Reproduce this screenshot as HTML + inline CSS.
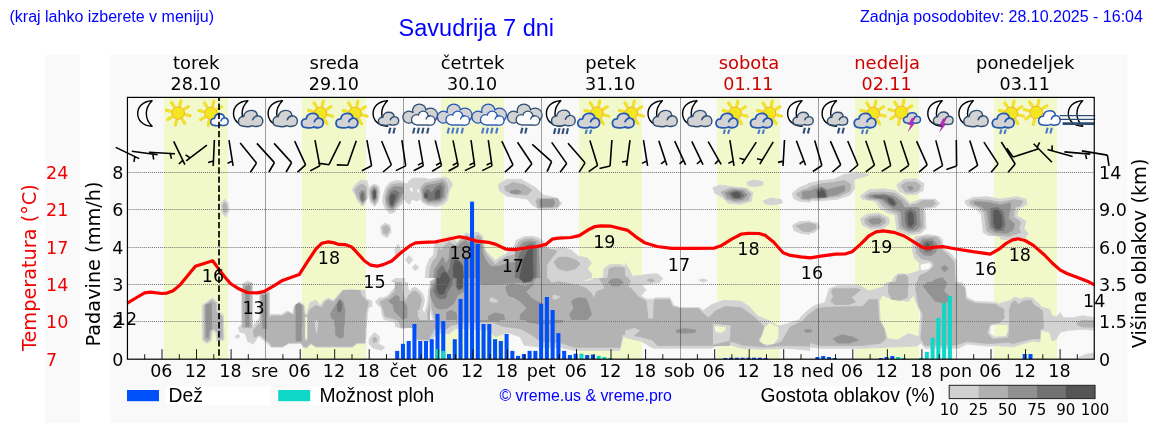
<!DOCTYPE html>
<html lang="sl"><head><meta charset="utf-8"><title>Savudrija 7 dni</title>
<style>html,body{margin:0;padding:0;background:#fff;overflow:hidden}svg{display:block;will-change:transform}text{white-space:pre}</style></head><body>
<svg width="1152" height="443" viewBox="0 0 1152 443">
<rect x="0" y="0" width="1152" height="443" fill="#ffffff"/>
<rect x="45.2" y="55" width="34.7" height="367.6" fill="#f9f9f9"/>
<rect x="110.2" y="55" width="1017.3" height="367.6" fill="#f9f9f9"/>
<rect x="164" y="97.4" width="64" height="261.8" fill="#f1f8c9"/>
<rect x="302" y="97.4" width="64" height="261.8" fill="#f1f8c9"/>
<rect x="441" y="97.4" width="63" height="261.8" fill="#f1f8c9"/>
<rect x="579" y="97.4" width="63" height="261.8" fill="#f1f8c9"/>
<rect x="717" y="97.4" width="63" height="261.8" fill="#f1f8c9"/>
<rect x="855" y="97.4" width="64" height="261.8" fill="#f1f8c9"/>
<rect x="994" y="97.4" width="63" height="261.8" fill="#f1f8c9"/>
<g id="clouds" shape-rendering="geometricPrecision">
<defs><clipPath id="pc"><rect x="127.3" y="97.3" width="967.4" height="261.7"/></clipPath>
<clipPath id="cc0"><path d="M0 0H1152V443H0ZM195 290H365V362H195Z" clip-rule="evenodd"/></clipPath>
<clipPath id="cc1"><rect x="195" y="290" width="76" height="72"/></clipPath>
<clipPath id="cc2"><rect x="271" y="290" width="94" height="36"/></clipPath>
<clipPath id="cc3"><rect x="271" y="326" width="94" height="36"/></clipPath>
<clipPath id="cc4"><path d="M0 0H1152V443H0ZM345 172H465V218H345Z" clip-rule="evenodd"/></clipPath>
<clipPath id="cc5"><rect x="345" y="172" width="120" height="46"/></clipPath>
<clipPath id="cc6"><path d="M340 232H395V360H340ZM365 282H430V328H365Z" clip-rule="evenodd"/></clipPath>
<clipPath id="cc7"><rect x="395" y="232" width="120" height="46"/></clipPath>
<clipPath id="cc8"><path d="M395 278H515V320H395ZM365 282H430V328H365Z" clip-rule="evenodd"/></clipPath>
<clipPath id="cc9"><rect x="515" y="232" width="110" height="46"/></clipPath>
<clipPath id="cc10"><rect x="515" y="278" width="110" height="42"/></clipPath>
<clipPath id="cc11"><rect x="395" y="320" width="230" height="40"/></clipPath>
<clipPath id="cc12"><rect x="365" y="282" width="65" height="46"/></clipPath>
<clipPath id="cc13"><rect x="625" y="232" width="185" height="128"/></clipPath>
<clipPath id="cc14"><path d="M0 0H1152V443H0ZM880 236H1000V282H880Z" clip-rule="evenodd"/></clipPath>
<clipPath id="cc15"><rect x="880" y="236" width="120" height="46"/></clipPath>
</defs>
<g clip-path="url(#pc)">
<path d="M221.2 203.3L224.6 199.2L228.1 203.3L229.2 210.6L225.4 216.9L221.9 211.7Z" fill="#d3d3d3" fill-rule="evenodd" stroke="#d3d3d3" stroke-width="0.8" stroke-linejoin="round"/>
<path d="M202.1 304.5L207.3 299.2L214.6 298.2L216.7 312.8L222.9 313.8L224.0 340.9L217.7 342.0L216.7 330.5L213.5 330.5L211.5 340.9L206.2 343.0L202.1 339.9Z" clip-path="url(#cc0)" fill="#d3d3d3" fill-rule="evenodd" stroke="#d3d3d3" stroke-width="0.8" stroke-linejoin="round"/>
<path d="M242.7 283.6L247.9 280.9L252.5 283.6L252.5 327.4L247.9 328.8L242.7 327.4Z" clip-path="url(#cc0)" fill="#d3d3d3" fill-rule="evenodd" stroke="#d3d3d3" stroke-width="0.8" stroke-linejoin="round"/>
<path d="M262.9 293.0L268.8 291.3L270.4 294.0L270.4 330.5L262.9 330.5Z" clip-path="url(#cc0)" fill="#d3d3d3" fill-rule="evenodd" stroke="#d3d3d3" stroke-width="0.8" stroke-linejoin="round"/>
<path d="M235.4 334.7L238.5 333.6L240.0 336.3L237.5 338.4L235.0 337.2Z" clip-path="url(#cc0)" fill="#d3d3d3" fill-rule="evenodd" stroke="#d3d3d3" stroke-width="0.8" stroke-linejoin="round"/>
<path d="M238.5 328.4L243.8 326.3L247.9 328.8L254.2 324.2L261.5 317.0L270.8 314.2L283.3 314.9L291.7 312.2L295.8 304.5L302.1 303.0L305.8 312.2L308.8 309.2L312.5 301.3L319.8 299.7L325.4 303.0L333.3 297.2L341.7 290.5L350.0 289.5L365.0 290.5L365.0 348.8L354.2 345.5L333.3 348.8L316.7 348.8L306.7 345.5L302.1 347.6L270.8 347.6L266.7 343.4L258.3 342.4L254.2 346.5L249.0 343.4L247.9 332.6L241.7 332.6Z" clip-path="url(#cc0)" fill="#d3d3d3" fill-rule="evenodd" stroke="#d3d3d3" stroke-width="0.8" stroke-linejoin="round"/>
<path d="M202.4 304.9L206.5 302.2L212.6 298.1L217.3 302.2L217.3 310.3L223.4 315.0L224.1 340.1L216.7 340.7L216.0 333.3L212.6 330.6L211.2 340.7L206.5 343.5L202.4 340.1Z" clip-path="url(#cc1)" fill="#d3d3d3" fill-rule="evenodd" stroke="#d3d3d3" stroke-width="0.8" stroke-linejoin="round"/>
<path d="M241.7 289.3L252.5 289.3L252.5 328.6L241.7 328.6Z" clip-path="url(#cc1)" fill="#d3d3d3" fill-rule="evenodd" stroke="#d3d3d3" stroke-width="0.8" stroke-linejoin="round"/>
<path d="M259.7 292.7L269.7 292.0L269.7 330.6L259.7 330.6Z" clip-path="url(#cc1)" fill="#d3d3d3" fill-rule="evenodd" stroke="#d3d3d3" stroke-width="0.8" stroke-linejoin="round"/>
<path d="M238.3 327.9L242.4 323.8L251.8 327.9L260.0 317.1L270.8 314.4L276.2 314.4L276.2 352.2L268.1 344.1L258.6 336.0L253.2 344.1L247.8 341.4L245.1 333.3L239.7 331.9Z" clip-path="url(#cc1)" fill="#d3d3d3" fill-rule="evenodd" stroke="#d3d3d3" stroke-width="0.8" stroke-linejoin="round"/>
<path d="M235.3 336.0L237.6 334.4L239.9 336.0L238.0 338.4L235.6 337.6Z" clip-path="url(#cc1)" fill="#d3d3d3" fill-rule="evenodd" stroke="#d3d3d3" stroke-width="0.8" stroke-linejoin="round"/>
<path d="M269.0 314.5L281.5 314.5L287.7 310.8L292.9 314.0L294.0 306.7L299.2 302.0L304.4 305.6L304.9 314.0L306.5 314.5L310.1 302.5L315.8 299.9L320.0 305.6L324.2 300.4L328.3 298.3L333.5 300.4L342.9 289.5L365.5 289.5L365.5 336.6L269.0 336.6ZM304.9 316.0L307.5 316.0L307.5 336.6L304.9 336.6Z" clip-path="url(#cc2)" fill="#d3d3d3" fill-rule="evenodd" stroke="#d3d3d3" stroke-width="0.8" stroke-linejoin="round"/>
<path d="M245.0 315.5L245.0 329.5L248.1 331.6L249.2 342.0L253.3 347.2L258.0 344.1L259.6 336.8L264.8 334.2L267.4 338.9L269.0 345.2L271.0 347.2L282.5 347.2L288.8 343.6L301.2 343.6L303.3 347.2L306.5 348.3L310.6 344.1L315.8 347.2L352.3 347.2L357.0 343.6L365.5 343.6L365.5 315.5ZM304.9 315.5L307.5 315.5L307.5 336.8L305.9 342.0L304.9 336.8Z" clip-path="url(#cc3)" fill="#d3d3d3" fill-rule="evenodd" stroke="#d3d3d3" stroke-width="0.8" stroke-linejoin="round"/>
<path d="M352.5 187.7L358.8 180.4L369.2 180.4L378.5 183.5L380.6 201.2L375.4 205.4L371.2 201.2L366.0 205.4L360.8 203.3L355.6 195.0Z" clip-path="url(#cc4)" fill="#d3d3d3" fill-rule="evenodd" stroke="#d3d3d3" stroke-width="0.8" stroke-linejoin="round"/>
<path d="M382.7 190.8L389.0 182.5L398.3 180.4L404.6 183.5L406.7 190.8L400.4 201.2L395.2 209.6L389.0 212.7L383.8 207.5Z" clip-path="url(#cc4)" fill="#d3d3d3" fill-rule="evenodd" stroke="#d3d3d3" stroke-width="0.8" stroke-linejoin="round"/>
<path d="M404.6 184.6L412.9 180.4L419.2 182.5L420.2 192.9L415.0 199.2L409.8 201.2L405.6 195.0Z" clip-path="url(#cc4)" fill="#d3d3d3" fill-rule="evenodd" stroke="#d3d3d3" stroke-width="0.8" stroke-linejoin="round"/>
<path d="M409.8 180.4L423.3 178.3L444.2 177.3L452.5 183.5L448.3 195.0L444.2 203.3L429.6 205.4L420.2 201.2L418.1 190.8L410.8 186.7Z" clip-path="url(#cc4)" fill="#d3d3d3" fill-rule="evenodd" stroke="#d3d3d3" stroke-width="0.8" stroke-linejoin="round"/>
<path d="M380.6 226.2L384.8 223.1L390.0 225.2L391.0 232.5L386.9 237.7L381.7 234.6Z" clip-path="url(#cc4)" fill="#d3d3d3" fill-rule="evenodd" stroke="#d3d3d3" stroke-width="0.8" stroke-linejoin="round"/>
<path d="M498.3 184.6L506.7 179.4L521.2 179.4L535.8 187.7L543.1 195.0L556.7 198.1L561.9 203.3L556.7 208.5L540.0 209.6L531.7 204.4L527.5 199.2L506.7 196.0L499.4 190.8Z" clip-path="url(#cc4)" fill="#d3d3d3" fill-rule="evenodd" stroke="#d3d3d3" stroke-width="0.8" stroke-linejoin="round"/>
<path d="M394.6 250.2L398.3 244.6L400.8 250.2L397.9 253.3Z" clip-path="url(#cc4)" fill="#d3d3d3" fill-rule="evenodd" stroke="#d3d3d3" stroke-width="0.8" stroke-linejoin="round"/>
<path d="M352.3 189.7L355.4 184.5L360.6 180.3L366.9 180.9L368.4 185.5L367.4 198.0L365.3 203.2L362.2 206.4L358.0 201.2L354.9 194.9Z" clip-path="url(#cc5)" fill="#d3d3d3" fill-rule="evenodd" stroke="#d3d3d3" stroke-width="0.8" stroke-linejoin="round"/>
<path d="M368.4 189.7L371.0 185.5L375.2 184.0L378.9 186.6L379.9 192.8L378.3 201.2L374.7 206.4L370.5 202.2L368.8 196.0Z" clip-path="url(#cc5)" fill="#d3d3d3" fill-rule="evenodd" stroke="#d3d3d3" stroke-width="0.8" stroke-linejoin="round"/>
<path d="M383.0 196.0L385.6 187.6L389.8 182.4L397.1 180.3L402.8 181.4L402.8 203.2L399.2 206.4L394.0 212.6L389.8 213.7L385.1 208.5L382.7 202.2Z" clip-path="url(#cc5)" fill="#d3d3d3" fill-rule="evenodd" stroke="#d3d3d3" stroke-width="0.8" stroke-linejoin="round"/>
<path d="M402.8 183.5L407.5 183.5L409.6 180.3L413.8 178.2L424.2 178.2L428.3 179.3L421.0 183.5L419.5 188.7L420.0 199.1L416.9 201.2L411.7 199.1L409.6 204.3L406.5 202.2L403.3 198.0ZM409.6 187.6L412.7 187.1L413.2 191.8L410.1 191.8ZM416.9 189.2L420.0 188.7L420.2 192.8L417.1 192.8Z" clip-path="url(#cc5)" fill="#d3d3d3" fill-rule="evenodd" stroke="#d3d3d3" stroke-width="0.8" stroke-linejoin="round"/>
<path d="M420.0 184.5L424.2 180.3L433.5 178.8L445.0 177.2L449.2 179.3L452.8 184.0L449.2 190.8L447.6 200.1L444.0 204.3L436.7 206.4L427.3 205.3L422.1 202.2L420.0 197.0Z" clip-path="url(#cc5)" fill="#d3d3d3" fill-rule="evenodd" stroke="#d3d3d3" stroke-width="0.8" stroke-linejoin="round"/>
<path d="M340.0 295.1L348.3 290.9L360.8 292.0L365.0 299.2L371.2 299.2L367.1 309.7L366.0 338.8L360.8 343.0L340.0 344.0Z" clip-path="url(#cc6)" fill="#d3d3d3" fill-rule="evenodd" stroke="#d3d3d3" stroke-width="0.8" stroke-linejoin="round"/>
<path d="M376.5 301.3L387.9 295.1L392.1 280.5L399.4 276.3L406.7 282.6L408.8 290.9L417.1 288.8L423.3 297.2L422.3 309.7L427.5 320.1L431.7 324.2L429.6 347.2L423.3 349.2L418.1 340.9L410.8 322.2L400.4 320.1L390.0 318.0L381.7 309.7Z" clip-path="url(#cc6)" fill="#d3d3d3" fill-rule="evenodd" stroke="#d3d3d3" stroke-width="0.8" stroke-linejoin="round"/>
<path d="M369.2 338.8L374.4 332.6L379.6 336.8L378.5 344.0L384.8 347.2L381.7 350.3L373.3 348.2L369.2 344.0Z" clip-path="url(#cc6)" fill="#d3d3d3" fill-rule="evenodd" stroke="#d3d3d3" stroke-width="0.8" stroke-linejoin="round"/>
<path d="M395.0 249.7L397.6 244.5L399.7 248.7L398.1 253.9L395.0 256.0Z" clip-path="url(#cc7)" fill="#d3d3d3" fill-rule="evenodd" stroke="#d3d3d3" stroke-width="0.8" stroke-linejoin="round"/>
<path d="M405.4 259.6L409.1 255.4L412.7 259.6L409.1 264.3Z" clip-path="url(#cc7)" fill="#d3d3d3" fill-rule="evenodd" stroke="#d3d3d3" stroke-width="0.8" stroke-linejoin="round"/>
<path d="M412.2 267.4L415.3 264.3L419.0 267.4L415.3 270.8Z" clip-path="url(#cc7)" fill="#d3d3d3" fill-rule="evenodd" stroke="#d3d3d3" stroke-width="0.8" stroke-linejoin="round"/>
<path d="M425.2 278.6L426.2 267.4L429.4 259.1L433.5 254.9L434.6 245.5L437.2 240.9L439.8 243.5L444.0 242.4L447.1 238.2L449.7 236.2L453.3 239.3L457.5 242.4L461.7 237.2L466.4 232.5L468.4 235.1L470.0 233.0L474.2 233.0L476.2 232.0L478.3 232.0L482.5 236.2L483.5 242.4L485.6 250.8L490.8 256.0L495.5 260.6L500.2 257.0L505.4 254.4L509.6 249.7L515.5 244.5L515.5 278.6Z" clip-path="url(#cc7)" fill="#d3d3d3" fill-rule="evenodd" stroke="#d3d3d3" stroke-width="0.8" stroke-linejoin="round"/>
<path d="M395.0 277.5L404.4 277.5L404.9 290.5L407.5 296.8L411.7 291.5L415.8 286.3L421.0 290.5L425.2 284.2L428.3 282.2L429.9 292.6L426.2 298.8L423.1 305.1L422.1 312.4L426.2 324.6L395.0 324.6Z" clip-path="url(#cc8)" fill="#d3d3d3" fill-rule="evenodd" stroke="#d3d3d3" stroke-width="0.8" stroke-linejoin="round"/>
<path d="M428.3 282.2L436.7 277.5L515.5 277.5L515.5 324.6L434.6 324.6L432.5 317.6L429.4 307.2L429.9 292.6Z" clip-path="url(#cc8)" fill="#d3d3d3" fill-rule="evenodd" stroke="#d3d3d3" stroke-width="0.8" stroke-linejoin="round"/>
<path d="M512.8 247.6L516.5 240.3L523.8 236.7L532.1 236.2L539.4 238.2L545.1 243.5L547.7 247.6L550.8 249.2L563.3 247.6L571.7 250.2L577.9 256.0L587.3 258.0L591.5 263.2L587.3 268.5L591.5 273.7L591.5 278.6L504.5 278.6L504.5 252.8Z" clip-path="url(#cc9)" fill="#d3d3d3" fill-rule="evenodd" stroke="#d3d3d3" stroke-width="0.8" stroke-linejoin="round"/>
<path d="M602.9 278.6L604.0 268.5L609.2 264.8L619.6 264.3L625.5 266.4L625.5 278.6Z" clip-path="url(#cc9)" fill="#d3d3d3" fill-rule="evenodd" stroke="#d3d3d3" stroke-width="0.8" stroke-linejoin="round"/>
<path d="M504.5 277.5L625.5 277.5L625.5 324.6L504.5 324.6ZM582.1 281.1L590.4 278.0L595.6 278.0L588.3 281.1Z" clip-path="url(#cc10)" fill="#d3d3d3" fill-rule="evenodd" stroke="#d3d3d3" stroke-width="0.8" stroke-linejoin="round"/>
<path d="M395.0 315.0L395.0 326.4L403.3 328.5L411.7 326.4L415.8 322.2L415.8 315.0Z" clip-path="url(#cc11)" fill="#d3d3d3" fill-rule="evenodd" stroke="#d3d3d3" stroke-width="0.8" stroke-linejoin="round"/>
<path d="M415.8 315.0L415.8 340.0L430.4 342.0L436.7 332.7L449.2 333.7L455.4 328.5L467.9 328.5L488.8 330.6L495.0 336.8L507.5 332.7L520.0 336.8L524.2 345.2L540.8 347.2L559.6 347.2L574.2 350.4L620.0 350.4L623.1 336.8L636.0 335.8L636.0 315.0Z" clip-path="url(#cc11)" fill="#d3d3d3" fill-rule="evenodd" stroke="#d3d3d3" stroke-width="0.8" stroke-linejoin="round"/>
<path d="M375.6 301.8L378.8 298.1L384.0 297.6L388.1 295.5L393.3 289.3L396.5 286.2L397.5 281.5L407.9 281.5L406.9 288.2L407.9 295.5L412.1 288.2L415.2 287.2L418.3 289.3L422.5 293.5L424.6 299.7L423.5 306.0L420.4 310.1L419.4 316.4L422.5 320.5L428.8 328.6L398.5 328.6L397.5 323.7L393.3 321.6L384.0 319.5L381.9 313.2L380.8 307.0L377.7 304.9Z" clip-path="url(#cc12)" fill="#d3d3d3" fill-rule="evenodd" stroke="#d3d3d3" stroke-width="0.8" stroke-linejoin="round"/>
<path d="M425.6 328.6L424.6 313.2L427.7 302.8L428.8 288.2L431.9 281.5L455.5 281.5L455.5 328.6Z" clip-path="url(#cc12)" fill="#d3d3d3" fill-rule="evenodd" stroke="#d3d3d3" stroke-width="0.8" stroke-linejoin="round"/>
<path d="M361.0 293.5L361.6 297.6L366.2 298.7L371.5 300.8L372.0 306.0L368.3 308.0L366.2 328.6L355.8 328.6L355.8 293.5Z" clip-path="url(#cc12)" fill="#d3d3d3" fill-rule="evenodd" stroke="#d3d3d3" stroke-width="0.8" stroke-linejoin="round"/>
<path d="M712.7 187.7L720.0 185.0L732.5 186.7L747.1 188.3L752.9 192.9L751.2 201.2L740.8 204.4L728.3 203.3L722.1 197.1L714.8 192.9Z" fill="#d3d3d3" fill-rule="evenodd" stroke="#d3d3d3" stroke-width="0.8" stroke-linejoin="round"/>
<path d="M746.7 182.5L753.3 180.0L762.7 181.5L763.3 185.0L755.4 186.7L748.1 185.6Z" fill="#d3d3d3" fill-rule="evenodd" stroke="#d3d3d3" stroke-width="0.8" stroke-linejoin="round"/>
<path d="M763.3 200.8L771.0 198.1L781.5 199.6L782.5 202.9L773.1 205.0L764.8 203.8Z" fill="#d3d3d3" fill-rule="evenodd" stroke="#d3d3d3" stroke-width="0.8" stroke-linejoin="round"/>
<path d="M792.5 192.9L799.2 187.7L810.0 183.5L810.0 202.3L799.2 201.2L793.3 198.1Z" fill="#d3d3d3" fill-rule="evenodd" stroke="#d3d3d3" stroke-width="0.8" stroke-linejoin="round"/>
<path d="M792.5 225.2L799.2 221.7L810.0 221.0L810.0 234.2L801.2 233.5L794.0 230.4Z" fill="#d3d3d3" fill-rule="evenodd" stroke="#d3d3d3" stroke-width="0.8" stroke-linejoin="round"/>
<path d="M570.0 259.7L582.5 268.0L590.8 274.2L599.2 277.4L607.5 268.0L611.7 261.8L624.2 261.8L628.3 268.0L632.5 276.3L641.9 275.3L648.1 274.2L657.5 273.8L662.7 278.4L659.6 282.6L641.9 284.7L646.0 289.9L640.8 296.1L647.1 299.2L653.3 299.2L655.4 297.8L670.0 297.8L673.8 305.5L680.4 307.6L699.2 307.6L703.3 310.7L711.7 304.5L724.2 300.3L740.8 301.3L749.2 306.5L757.5 315.9L770.0 321.1L778.3 326.3L788.8 323.2L801.2 319.0L810.0 309.7L810.0 350.3L786.7 348.2L761.7 349.2L740.8 348.2L728.3 344.0L715.8 346.1L711.7 348.2L653.3 348.2L640.8 340.9L622.1 336.8L619.0 347.2L607.5 350.3L570.0 350.3ZM764.8 326.8L770.0 322.6L779.0 327.2L778.5 338.8L773.1 344.7L762.7 344.7L759.2 340.9L762.1 334.7ZM714.0 326.8L717.1 325.7L725.8 326.8L725.8 330.3L721.2 333.4L715.4 332.0Z" clip-path="url(#cc13)" fill="#d3d3d3" fill-rule="evenodd" stroke="#d3d3d3" stroke-width="0.8" stroke-linejoin="round"/>
<path d="M698.8 280.1L703.3 278.8L707.5 280.5L703.3 282.2Z" clip-path="url(#cc13)" fill="#d3d3d3" fill-rule="evenodd" stroke="#d3d3d3" stroke-width="0.8" stroke-linejoin="round"/>
<path d="M800.0 190.8L808.3 183.5L820.8 180.4L833.3 179.4L844.8 174.2L862.5 173.1L868.8 175.2L854.2 179.4L854.6 188.8L850.0 195.0L837.5 199.2L820.8 200.8L800.0 200.2Z" clip-path="url(#cc14)" fill="#d3d3d3" fill-rule="evenodd" stroke="#d3d3d3" stroke-width="0.8" stroke-linejoin="round"/>
<path d="M800.0 224.6L808.3 221.7L817.7 223.1L819.8 227.3L814.6 232.5L804.2 233.5L800.0 232.1Z" clip-path="url(#cc14)" fill="#d3d3d3" fill-rule="evenodd" stroke="#d3d3d3" stroke-width="0.8" stroke-linejoin="round"/>
<path d="M860.4 196.0L868.8 189.8L883.3 188.8L895.8 190.8L904.2 197.1L910.4 203.3L920.8 199.2L935.4 199.2L939.6 203.3L935.4 207.5L925.0 208.5L926.0 228.3L920.8 233.5L908.3 235.0L896.9 230.4L894.8 214.8L887.5 212.7L879.2 207.5L875.0 201.2L862.5 199.2Z" clip-path="url(#cc14)" fill="#d3d3d3" fill-rule="evenodd" stroke="#d3d3d3" stroke-width="0.8" stroke-linejoin="round"/>
<path d="M896.9 184.6L904.2 179.4L915.6 178.8L924.0 183.5L922.9 190.8L915.6 194.6L906.2 194.6L899.0 190.8Z" clip-path="url(#cc14)" fill="#d3d3d3" fill-rule="evenodd" stroke="#d3d3d3" stroke-width="0.8" stroke-linejoin="round"/>
<path d="M860.4 219.0L866.7 214.2L879.2 213.3L888.5 217.5L889.6 223.1L883.3 228.3L870.8 229.4L862.5 225.2Z" clip-path="url(#cc14)" fill="#d3d3d3" fill-rule="evenodd" stroke="#d3d3d3" stroke-width="0.8" stroke-linejoin="round"/>
<path d="M911.5 242.9L916.7 236.7L927.1 234.6L937.5 236.2L943.8 242.9L942.7 250.2L950.0 254.4L955.2 262.1L955.2 270.0L916.7 270.0L912.5 253.3Z" clip-path="url(#cc14)" fill="#d3d3d3" fill-rule="evenodd" stroke="#d3d3d3" stroke-width="0.8" stroke-linejoin="round"/>
<path d="M964.6 201.2L972.9 197.5L987.5 196.7L1000.0 199.2L1016.7 196.7L1026.0 199.2L1027.1 204.4L1018.8 208.5L1016.7 215.8L1026.0 221.0L1024.0 228.3L1028.1 233.5L1025.0 237.7L1008.3 239.8L991.7 237.7L983.3 232.5L981.2 213.8L975.0 208.5L966.7 205.4Z" clip-path="url(#cc14)" fill="#d3d3d3" fill-rule="evenodd" stroke="#d3d3d3" stroke-width="0.8" stroke-linejoin="round"/>
<path d="M800.0 318.0L806.2 311.8L814.6 305.5L825.0 302.4L829.2 288.8L837.5 285.7L860.4 285.7L868.8 290.9L883.3 286.8L887.5 280.5L894.8 274.2L906.2 273.2L912.5 277.4L916.7 272.2L925.0 268.0L955.2 268.0L958.3 280.5L964.6 284.7L966.7 297.2L975.0 301.3L995.8 302.4L1005.2 306.5L1010.4 301.3L1014.6 297.2L1020.8 299.2L1026.0 297.2L1031.2 298.2L1040.0 304.5L1040.0 342.0L1025.0 339.9L1016.7 345.1L987.5 346.1L966.7 344.0L958.3 348.2L925.0 348.2L920.8 343.0L916.7 346.1L862.5 348.2L820.8 348.2L800.0 346.1ZM882.3 295.1L891.7 299.2L908.3 301.3L913.5 295.1L916.7 303.4L920.8 312.8L918.8 336.8L908.3 333.6L897.9 339.9L887.5 338.8L884.4 328.4L880.2 320.1L879.2 301.3ZM990.4 325.9L994.2 324.2L1008.8 324.2L1009.0 331.8L1006.2 336.3L994.8 337.2L989.6 333.4Z" clip-path="url(#cc14)" fill="#d3d3d3" fill-rule="evenodd" stroke="#d3d3d3" stroke-width="0.8" stroke-linejoin="round"/>
<path d="M912.3 242.2L915.4 237.0L921.7 235.5L938.3 235.5L942.5 240.2L943.5 248.5L950.8 253.7L956.0 260.0L957.1 282.6L891.5 282.6L894.6 276.6L898.8 273.5L907.1 274.5L914.4 272.5L919.6 270.4L919.6 263.1L914.4 257.9L912.3 249.5ZM920.1 264.1L929.0 262.6L932.1 265.2L929.0 269.3L921.7 270.9L920.1 268.3Z" clip-path="url(#cc15)" fill="#d3d3d3" fill-rule="evenodd" stroke="#d3d3d3" stroke-width="0.8" stroke-linejoin="round"/>
<path d="M988.3 235.5L994.6 235.5L1000.5 237.0L1000.5 235.5Z" clip-path="url(#cc15)" fill="#d3d3d3" fill-rule="evenodd" stroke="#d3d3d3" stroke-width="0.8" stroke-linejoin="round"/>
<path d="M1000.0 303.3L1008.3 301.2L1013.5 298.1L1018.7 302.2L1024.9 298.1L1033.2 298.1L1036.3 305.3L1049.8 309.5L1051.9 315.7L1057.1 316.8L1060.2 312.6L1063.3 317.8L1072.6 317.8L1083.0 315.7L1094.4 317.8L1094.4 330.2L1083.0 329.2L1068.5 330.2L1060.2 332.3L1056.0 339.6L1051.9 340.6L1049.8 332.3L1041.5 330.2L1039.4 338.5L1027.0 342.7L1012.4 346.8L1000.0 345.8L1000.0 337.3L1006.2 336.5L1008.3 330.2L1007.9 324.0L1000.0 324.0Z" fill="#d3d3d3" fill-rule="evenodd" stroke="#d3d3d3" stroke-width="0.8" stroke-linejoin="round"/>
<path d="M1078.8 357.2L1087.1 354.1L1094.4 353.1L1094.4 358.2Z" fill="#d3d3d3" fill-rule="evenodd" stroke="#d3d3d3" stroke-width="0.8" stroke-linejoin="round"/>
<path d="M222.5 205.4L225.0 202.3L227.1 206.5L226.7 211.7L224.0 212.7Z" fill="#b3b3b3" fill-rule="evenodd" stroke="#b3b3b3" stroke-width="0.8" stroke-linejoin="round"/>
<path d="M203.8 302.4L215.0 300.3L215.8 330.5L211.5 340.9L205.2 341.3L203.8 330.5Z" clip-path="url(#cc0)" fill="#b3b3b3" fill-rule="evenodd" stroke="#b3b3b3" stroke-width="0.8" stroke-linejoin="round"/>
<path d="M218.8 315.9L222.9 315.9L222.9 339.9L218.8 339.9Z" clip-path="url(#cc0)" fill="#b3b3b3" fill-rule="evenodd" stroke="#b3b3b3" stroke-width="0.8" stroke-linejoin="round"/>
<path d="M243.3 284.7L251.7 283.0L251.7 327.4L243.3 327.4Z" clip-path="url(#cc0)" fill="#b3b3b3" fill-rule="evenodd" stroke="#b3b3b3" stroke-width="0.8" stroke-linejoin="round"/>
<path d="M263.3 293.4L270.0 292.6L270.0 330.1L263.3 330.1Z" clip-path="url(#cc0)" fill="#b3b3b3" fill-rule="evenodd" stroke="#b3b3b3" stroke-width="0.8" stroke-linejoin="round"/>
<path d="M258.3 330.5L266.7 318.0L283.3 320.1L291.7 318.0L295.8 309.7L303.1 309.7L304.6 338.8L308.3 340.9L309.4 315.9L313.5 306.5L320.8 304.5L326.0 307.6L335.4 299.2L345.8 294.0L365.0 295.1L365.0 343.0L352.1 342.0L333.3 344.0L316.7 344.0L312.5 339.9L306.2 342.0L270.8 344.0L268.8 338.8L260.4 337.8ZM314.6 318.0L318.8 317.0L319.8 334.7L315.6 336.8Z" clip-path="url(#cc0)" fill="#b3b3b3" fill-rule="evenodd" stroke="#b3b3b3" stroke-width="0.8" stroke-linejoin="round"/>
<path d="M204.2 305.6L211.9 300.1L216.0 303.5L216.0 311.7L222.1 316.4L222.7 338.7L218.0 339.0L217.3 331.9L213.3 328.6L210.6 330.6L209.9 339.4L206.5 341.4L204.2 338.7Z" clip-path="url(#cc1)" fill="#b3b3b3" fill-rule="evenodd" stroke="#b3b3b3" stroke-width="0.8" stroke-linejoin="round"/>
<path d="M242.6 289.3L251.6 289.3L251.6 327.6L242.6 327.6Z" clip-path="url(#cc1)" fill="#b3b3b3" fill-rule="evenodd" stroke="#b3b3b3" stroke-width="0.8" stroke-linejoin="round"/>
<path d="M260.6 293.4L268.7 293.0L268.7 329.9L260.6 329.9Z" clip-path="url(#cc1)" fill="#b3b3b3" fill-rule="evenodd" stroke="#b3b3b3" stroke-width="0.8" stroke-linejoin="round"/>
<path d="M253.2 330.6L260.0 322.5L268.1 317.1L276.2 317.1L276.2 348.2L268.1 341.4L260.0 334.7L254.5 337.4Z" clip-path="url(#cc1)" fill="#b3b3b3" fill-rule="evenodd" stroke="#b3b3b3" stroke-width="0.8" stroke-linejoin="round"/>
<path d="M269.0 316.0L282.5 316.0L287.7 312.4L294.0 315.0L295.0 305.6L299.2 303.0L303.3 305.6L304.4 315.0L307.5 317.1L309.6 309.8L315.8 305.6L322.1 307.7L325.2 301.5L328.3 299.9L333.5 302.0L338.8 296.2L344.0 289.5L359.6 289.5L361.7 296.2L365.5 299.4L365.5 336.6L269.0 336.6ZM304.4 316.0L308.0 316.6L308.0 336.6L304.4 336.6ZM314.3 321.2L316.9 319.2L319.0 322.3L317.9 331.7L315.8 336.6L314.3 331.7Z" clip-path="url(#cc2)" fill="#b3b3b3" fill-rule="evenodd" stroke="#b3b3b3" stroke-width="0.8" stroke-linejoin="round"/>
<path d="M259.6 325.4L262.7 315.5L365.5 315.5L365.5 342.6L357.0 342.6L352.3 346.2L315.8 346.2L310.6 343.1L306.5 347.2L303.3 346.2L301.2 342.6L288.8 342.6L282.5 346.2L271.0 346.2L269.0 344.1L267.4 336.8L259.6 331.6ZM304.4 315.5L308.0 315.5L308.0 337.9L305.9 343.1L304.4 337.9ZM314.3 319.1L316.9 317.0L318.4 320.2L317.9 331.6L316.4 334.8L314.8 329.5Z" clip-path="url(#cc3)" fill="#b3b3b3" fill-rule="evenodd" stroke="#b3b3b3" stroke-width="0.8" stroke-linejoin="round"/>
<path d="M356.7 188.8L360.8 184.6L366.0 187.7L366.0 201.2L361.9 201.2L357.7 195.0Z" clip-path="url(#cc4)" fill="#b3b3b3" fill-rule="evenodd" stroke="#b3b3b3" stroke-width="0.8" stroke-linejoin="round"/>
<path d="M369.2 186.7L373.3 183.5L377.5 186.7L378.5 199.2L374.4 202.3L370.2 198.1Z" clip-path="url(#cc4)" fill="#b3b3b3" fill-rule="evenodd" stroke="#b3b3b3" stroke-width="0.8" stroke-linejoin="round"/>
<path d="M385.8 192.9L391.0 185.6L400.4 184.6L402.5 190.8L397.3 201.2L392.1 208.5L386.9 205.4Z" clip-path="url(#cc4)" fill="#b3b3b3" fill-rule="evenodd" stroke="#b3b3b3" stroke-width="0.8" stroke-linejoin="round"/>
<path d="M421.2 184.6L431.7 181.5L444.2 180.4L448.3 184.6L445.2 195.0L440.0 201.2L427.5 202.3L422.3 197.1Z" clip-path="url(#cc4)" fill="#b3b3b3" fill-rule="evenodd" stroke="#b3b3b3" stroke-width="0.8" stroke-linejoin="round"/>
<path d="M382.7 227.3L386.9 225.2L389.6 229.4L386.9 234.6L383.3 232.5Z" clip-path="url(#cc4)" fill="#b3b3b3" fill-rule="evenodd" stroke="#b3b3b3" stroke-width="0.8" stroke-linejoin="round"/>
<path d="M504.6 186.7L512.9 182.5L523.3 184.6L531.7 189.8L527.5 195.0L512.9 194.0L505.6 190.8Z" clip-path="url(#cc4)" fill="#b3b3b3" fill-rule="evenodd" stroke="#b3b3b3" stroke-width="0.8" stroke-linejoin="round"/>
<path d="M536.2 201.2L537.9 198.5L557.7 198.5L559.4 202.9L558.3 206.7L537.5 207.5Z" clip-path="url(#cc4)" fill="#b3b3b3" fill-rule="evenodd" stroke="#b3b3b3" stroke-width="0.8" stroke-linejoin="round"/>
<path d="M354.9 189.7L358.5 185.5L363.2 184.0L366.4 187.6L366.4 199.1L362.7 204.3L359.1 200.1L356.5 194.9Z" clip-path="url(#cc5)" fill="#b3b3b3" fill-rule="evenodd" stroke="#b3b3b3" stroke-width="0.8" stroke-linejoin="round"/>
<path d="M370.0 190.2L372.6 186.6L375.7 186.1L377.8 189.7L377.8 199.1L374.7 204.3L371.6 200.6L370.0 195.4Z" clip-path="url(#cc5)" fill="#b3b3b3" fill-rule="evenodd" stroke="#b3b3b3" stroke-width="0.8" stroke-linejoin="round"/>
<path d="M385.1 197.0L387.7 188.7L391.9 184.5L399.2 183.5L402.8 184.0L402.8 199.1L398.1 204.3L392.9 210.5L389.3 210.0L386.1 205.3Z" clip-path="url(#cc5)" fill="#b3b3b3" fill-rule="evenodd" stroke="#b3b3b3" stroke-width="0.8" stroke-linejoin="round"/>
<path d="M421.0 187.6L424.2 183.5L433.5 181.4L442.9 179.3L446.6 182.4L448.1 188.7L446.0 198.0L441.9 202.2L435.6 203.8L427.3 203.2L422.6 200.1Z" clip-path="url(#cc5)" fill="#b3b3b3" fill-rule="evenodd" stroke="#b3b3b3" stroke-width="0.8" stroke-linejoin="round"/>
<path d="M340.0 297.2L348.3 294.0L359.8 295.1L362.9 301.3L366.0 302.4L364.0 311.8L364.0 336.8L359.8 339.9L340.0 339.9Z" clip-path="url(#cc6)" fill="#b3b3b3" fill-rule="evenodd" stroke="#b3b3b3" stroke-width="0.8" stroke-linejoin="round"/>
<path d="M390.0 299.2L395.2 293.0L400.4 295.1L406.7 305.5L407.7 315.9L400.4 317.0L392.1 311.8Z" clip-path="url(#cc6)" fill="#b3b3b3" fill-rule="evenodd" stroke="#b3b3b3" stroke-width="0.8" stroke-linejoin="round"/>
<path d="M392.1 282.6L398.3 279.5L402.5 284.7L399.4 290.9L394.6 288.8Z" clip-path="url(#cc6)" fill="#b3b3b3" fill-rule="evenodd" stroke="#b3b3b3" stroke-width="0.8" stroke-linejoin="round"/>
<path d="M408.8 295.1L416.0 292.0L421.2 299.2L419.2 309.7L412.9 305.5Z" clip-path="url(#cc6)" fill="#b3b3b3" fill-rule="evenodd" stroke="#b3b3b3" stroke-width="0.8" stroke-linejoin="round"/>
<path d="M418.1 324.2L428.5 325.3L428.5 345.1L422.3 346.1L418.8 338.8Z" clip-path="url(#cc6)" fill="#b3b3b3" fill-rule="evenodd" stroke="#b3b3b3" stroke-width="0.8" stroke-linejoin="round"/>
<path d="M372.3 338.8L375.4 337.2L377.1 340.9L373.8 342.6Z" clip-path="url(#cc6)" fill="#b3b3b3" fill-rule="evenodd" stroke="#b3b3b3" stroke-width="0.8" stroke-linejoin="round"/>
<path d="M429.4 278.6L430.4 267.4L433.0 261.2L436.7 257.0L438.8 247.6L440.8 250.8L444.0 246.6L447.1 243.5L449.2 241.4L451.2 243.5L455.4 245.5L459.6 241.4L463.8 237.2L466.9 235.1L469.5 238.2L474.2 238.2L478.3 235.1L481.5 238.2L483.5 247.6L486.7 254.9L491.9 261.2L495.5 264.3L501.2 260.1L506.5 256.5L515.5 254.4L515.5 278.6Z" clip-path="url(#cc7)" fill="#b3b3b3" fill-rule="evenodd" stroke="#b3b3b3" stroke-width="0.8" stroke-linejoin="round"/>
<path d="M395.0 288.4L399.2 284.2L403.3 283.2L403.9 298.8L407.5 305.1L406.5 314.5L401.2 319.7L395.0 317.6Z" clip-path="url(#cc8)" fill="#b3b3b3" fill-rule="evenodd" stroke="#b3b3b3" stroke-width="0.8" stroke-linejoin="round"/>
<path d="M408.5 294.7L414.3 290.5L421.0 295.7L423.1 304.0L419.0 309.2L416.9 317.6L409.6 319.7L406.5 312.4L410.6 305.1Z" clip-path="url(#cc8)" fill="#b3b3b3" fill-rule="evenodd" stroke="#b3b3b3" stroke-width="0.8" stroke-linejoin="round"/>
<path d="M430.9 282.2L436.7 277.5L515.5 277.5L515.5 324.6L436.7 324.6L434.6 317.6L431.5 307.2L430.9 294.7ZM488.8 298.8L491.9 296.8L498.1 299.9L498.1 303.0L491.9 303.0L489.3 301.4Z" clip-path="url(#cc8)" fill="#b3b3b3" fill-rule="evenodd" stroke="#b3b3b3" stroke-width="0.8" stroke-linejoin="round"/>
<path d="M515.4 247.6L519.6 241.4L525.8 238.8L533.1 238.8L538.9 241.4L541.5 247.6L550.8 249.2L557.1 251.3L550.8 259.1L546.7 265.3L546.7 278.6L504.5 278.6L504.5 254.4Z" clip-path="url(#cc9)" fill="#b3b3b3" fill-rule="evenodd" stroke="#b3b3b3" stroke-width="0.8" stroke-linejoin="round"/>
<path d="M554.0 262.2L558.1 257.5L566.5 257.0L575.8 260.1L580.0 263.8L575.8 268.5L566.5 271.1L558.1 268.5Z" clip-path="url(#cc9)" fill="#b3b3b3" fill-rule="evenodd" stroke="#b3b3b3" stroke-width="0.8" stroke-linejoin="round"/>
<path d="M607.6 278.6L609.2 268.5L615.4 266.9L622.7 267.4L625.5 269.5L625.5 278.6Z" clip-path="url(#cc9)" fill="#b3b3b3" fill-rule="evenodd" stroke="#b3b3b3" stroke-width="0.8" stroke-linejoin="round"/>
<path d="M504.5 277.5L546.7 277.5L551.9 283.2L559.2 281.6L567.5 283.2L577.9 285.3L586.2 288.4L591.5 293.6L593.5 298.8L596.7 291.5L605.0 288.4L602.9 284.2L598.8 277.5L625.5 277.5L625.5 324.6L504.5 324.6ZM551.9 295.7L554.0 294.1L561.8 296.8L555.0 300.4L552.1 298.8Z" clip-path="url(#cc10)" fill="#b3b3b3" fill-rule="evenodd" stroke="#b3b3b3" stroke-width="0.8" stroke-linejoin="round"/>
<path d="M415.8 315.0L417.9 338.9L428.3 340.0L434.6 328.5L447.1 328.5L451.2 325.4L463.8 322.2L492.9 322.2L503.3 326.4L520.0 328.5L528.3 332.7L540.8 341.0L561.7 343.1L574.2 347.2L620.0 347.2L622.1 334.8L636.0 332.7L636.0 315.0Z" clip-path="url(#cc11)" fill="#b3b3b3" fill-rule="evenodd" stroke="#b3b3b3" stroke-width="0.8" stroke-linejoin="round"/>
<path d="M379.8 301.8L384.0 299.7L389.2 297.6L394.4 291.4L398.5 285.1L401.7 285.1L402.7 292.4L405.8 302.8L407.9 296.6L412.1 291.9L415.2 290.9L419.4 294.5L421.5 299.7L420.4 304.9L417.3 309.1L417.3 316.4L420.4 321.6L424.6 328.6L401.7 328.6L398.5 320.5L393.3 318.5L385.0 316.4L382.9 308.0Z" clip-path="url(#cc12)" fill="#b3b3b3" fill-rule="evenodd" stroke="#b3b3b3" stroke-width="0.8" stroke-linejoin="round"/>
<path d="M428.8 328.6L427.7 313.2L429.8 302.8L430.8 290.3L434.0 281.5L455.5 281.5L455.5 328.6Z" clip-path="url(#cc12)" fill="#b3b3b3" fill-rule="evenodd" stroke="#b3b3b3" stroke-width="0.8" stroke-linejoin="round"/>
<path d="M360.0 297.6L365.2 300.2L368.3 302.3L367.3 307.0L365.7 313.2L365.7 328.6L355.8 328.6L355.8 297.6Z" clip-path="url(#cc12)" fill="#b3b3b3" fill-rule="evenodd" stroke="#b3b3b3" stroke-width="0.8" stroke-linejoin="round"/>
<path d="M721.0 191.9L730.4 188.3L745.0 189.2L750.8 194.0L748.1 200.2L736.7 202.3L726.2 199.2Z" fill="#b3b3b3" fill-rule="evenodd" stroke="#b3b3b3" stroke-width="0.8" stroke-linejoin="round"/>
<path d="M796.0 194.0L803.3 189.8L810.0 188.8L810.0 200.2L801.2 199.2Z" fill="#b3b3b3" fill-rule="evenodd" stroke="#b3b3b3" stroke-width="0.8" stroke-linejoin="round"/>
<path d="M796.0 225.8L803.3 223.8L810.0 223.8L810.0 231.5L802.3 230.8Z" fill="#b3b3b3" fill-rule="evenodd" stroke="#b3b3b3" stroke-width="0.8" stroke-linejoin="round"/>
<path d="M570.0 285.7L586.7 287.8L592.9 296.1L597.1 289.9L609.6 286.8L630.4 287.8L638.8 297.2L646.0 300.9L648.1 319.0L653.3 319.0L654.4 299.7L669.6 299.7L672.1 306.5L680.4 308.6L698.1 308.6L702.3 312.8L708.5 318.0L715.8 310.7L725.2 306.5L740.8 307.6L747.1 311.8L755.4 318.0L763.8 326.3L761.2 334.7L758.1 340.9L766.9 346.8L781.7 342.0L790.0 327.2L799.2 322.6L810.0 320.1L810.0 346.1L786.7 345.5L761.7 346.8L742.9 345.1L730.4 340.9L713.8 345.1L657.5 345.5L652.3 339.9L640.8 336.8L634.6 335.7L640.8 330.5L634.6 327.4L624.2 330.5L620.0 338.8L617.9 345.1L570.0 346.1ZM712.5 323.0L731.2 325.1L730.4 336.8L729.6 345.5L712.5 345.5Z" clip-path="url(#cc13)" fill="#b3b3b3" fill-rule="evenodd" stroke="#b3b3b3" stroke-width="0.8" stroke-linejoin="round"/>
<path d="M599.2 277.4L607.5 272.2L622.1 273.2L630.4 280.5L628.3 286.8L611.7 287.8L601.2 284.7Z" clip-path="url(#cc13)" fill="#b3b3b3" fill-rule="evenodd" stroke="#b3b3b3" stroke-width="0.8" stroke-linejoin="round"/>
<path d="M570.0 263.8L578.3 270.1L582.5 276.3L576.2 280.5L570.0 278.4Z" clip-path="url(#cc13)" fill="#b3b3b3" fill-rule="evenodd" stroke="#b3b3b3" stroke-width="0.8" stroke-linejoin="round"/>
<path d="M647.1 280.1L651.2 278.8L654.4 280.5L650.8 282.2Z" clip-path="url(#cc13)" fill="#b3b3b3" fill-rule="evenodd" stroke="#b3b3b3" stroke-width="0.8" stroke-linejoin="round"/>
<path d="M802.1 192.9L810.4 186.7L822.9 183.5L833.3 182.5L844.8 180.4L851.0 184.6L850.0 190.8L839.6 196.0L820.8 198.8L804.2 198.8Z" clip-path="url(#cc14)" fill="#b3b3b3" fill-rule="evenodd" stroke="#b3b3b3" stroke-width="0.8" stroke-linejoin="round"/>
<path d="M801.0 225.2L808.3 223.1L815.6 224.6L816.2 228.3L810.4 231.5L802.1 230.8Z" clip-path="url(#cc14)" fill="#b3b3b3" fill-rule="evenodd" stroke="#b3b3b3" stroke-width="0.8" stroke-linejoin="round"/>
<path d="M864.6 196.0L870.8 192.5L883.3 191.9L894.8 193.3L903.1 199.2L909.4 205.4L920.8 203.3L922.9 207.5L923.3 227.3L918.8 231.5L909.4 232.5L899.6 228.3L897.9 213.8L889.6 210.6L882.3 205.4L878.1 200.2L866.7 198.8Z" clip-path="url(#cc14)" fill="#b3b3b3" fill-rule="evenodd" stroke="#b3b3b3" stroke-width="0.8" stroke-linejoin="round"/>
<path d="M901.0 185.6L906.2 182.1L915.6 182.1L920.4 185.6L918.8 190.4L912.5 192.5L905.2 191.9Z" clip-path="url(#cc14)" fill="#b3b3b3" fill-rule="evenodd" stroke="#b3b3b3" stroke-width="0.8" stroke-linejoin="round"/>
<path d="M917.5 203.8L922.7 200.6L933.1 200.2L935.2 203.3L932.1 206.5L919.6 207.5Z" clip-path="url(#cc14)" fill="#b3b3b3" fill-rule="evenodd" stroke="#b3b3b3" stroke-width="0.8" stroke-linejoin="round"/>
<path d="M864.6 219.6L869.8 216.2L879.2 215.8L885.4 219.0L885.4 223.1L880.2 226.2L870.8 226.7L865.6 223.8Z" clip-path="url(#cc14)" fill="#b3b3b3" fill-rule="evenodd" stroke="#b3b3b3" stroke-width="0.8" stroke-linejoin="round"/>
<path d="M914.6 244.0L919.8 238.3L927.1 236.7L935.4 238.3L939.6 242.9L938.5 250.2L943.8 257.5L945.8 270.0L925.0 270.0L917.7 254.4Z" clip-path="url(#cc14)" fill="#b3b3b3" fill-rule="evenodd" stroke="#b3b3b3" stroke-width="0.8" stroke-linejoin="round"/>
<path d="M969.8 201.2L977.1 199.6L989.6 200.2L1000.0 202.3L1014.6 199.6L1022.9 201.2L1020.8 205.4L1014.6 207.5L1013.5 216.9L1020.8 222.1L1018.8 228.3L1020.8 232.5L1008.3 236.2L992.7 234.6L986.5 230.4L984.4 212.7L978.1 207.1L970.8 204.4Z" clip-path="url(#cc14)" fill="#b3b3b3" fill-rule="evenodd" stroke="#b3b3b3" stroke-width="0.8" stroke-linejoin="round"/>
<path d="M832.9 288.8L857.5 288.8L860.6 289.9L851.2 297.6L855.8 301.8L849.2 304.5L834.6 304.5L830.8 301.3L833.5 296.5L831.5 292.4Z" clip-path="url(#cc14)" fill="#b3b3b3" fill-rule="evenodd" stroke="#b3b3b3" stroke-width="0.8" stroke-linejoin="round"/>
<path d="M800.0 324.2L808.3 314.9L816.7 308.6L827.1 307.2L862.5 306.5L868.8 299.7L877.5 299.7L878.8 320.1L883.8 328.4L885.8 338.8L881.2 343.0L862.5 345.5L820.8 345.5L800.0 339.9Z" clip-path="url(#cc14)" fill="#b3b3b3" fill-rule="evenodd" stroke="#b3b3b3" stroke-width="0.8" stroke-linejoin="round"/>
<path d="M888.5 284.7L891.7 278.4L897.9 275.3L906.2 275.3L908.3 280.5L907.3 297.2L900.0 300.3L891.7 299.2L888.5 293.0Z" clip-path="url(#cc14)" fill="#b3b3b3" fill-rule="evenodd" stroke="#b3b3b3" stroke-width="0.8" stroke-linejoin="round"/>
<path d="M916.7 276.3L925.0 271.1L933.3 268.0L954.2 268.0L956.2 282.6L964.6 287.8L965.6 299.2L975.0 303.4L995.8 304.5L1003.1 309.7L1004.2 318.0L1000.0 322.6L989.6 324.2L987.1 333.0L992.7 339.2L1010.0 338.0L1012.5 322.2L1011.5 305.5L1014.6 300.3L1018.8 305.5L1024.0 301.3L1029.2 302.4L1040.0 308.6L1040.0 338.8L1025.0 337.8L1016.7 342.0L987.5 343.4L966.7 341.3L956.2 345.1L925.0 345.5L920.8 338.8L922.9 314.9L918.8 305.5L915.6 288.8Z" clip-path="url(#cc14)" fill="#b3b3b3" fill-rule="evenodd" stroke="#b3b3b3" stroke-width="0.8" stroke-linejoin="round"/>
<path d="M915.4 243.3L918.5 238.6L923.8 237.0L936.2 237.0L940.4 241.2L941.5 249.5L948.8 255.8L954.0 262.0L955.0 282.6L917.5 282.6L919.6 275.6L926.9 272.5L934.2 266.2L932.1 261.0L921.7 258.9L916.5 253.7Z" clip-path="url(#cc15)" fill="#b3b3b3" fill-rule="evenodd" stroke="#b3b3b3" stroke-width="0.8" stroke-linejoin="round"/>
<path d="M895.6 282.6L897.7 275.6L905.0 274.5L908.1 277.7L907.1 282.6Z" clip-path="url(#cc15)" fill="#b3b3b3" fill-rule="evenodd" stroke="#b3b3b3" stroke-width="0.8" stroke-linejoin="round"/>
<path d="M1009.3 309.5L1012.4 302.2L1016.6 306.4L1022.8 301.2L1031.1 300.2L1034.2 307.4L1042.5 310.5L1043.6 328.2L1038.4 330.2L1037.3 337.5L1024.9 340.6L1012.4 343.7L1005.8 340.2L1008.7 336.5L1009.5 330.2Z" fill="#b3b3b3" fill-rule="evenodd" stroke="#b3b3b3" stroke-width="0.8" stroke-linejoin="round"/>
<path d="M1000.0 307.4L1004.1 309.5L1003.1 317.8L1000.0 318.8Z" fill="#b3b3b3" fill-rule="evenodd" stroke="#b3b3b3" stroke-width="0.8" stroke-linejoin="round"/>
<path d="M1076.8 322.4L1083.0 320.3L1094.4 320.9L1094.4 327.1L1083.0 327.1L1077.8 325.1Z" fill="#b3b3b3" fill-rule="evenodd" stroke="#b3b3b3" stroke-width="0.8" stroke-linejoin="round"/>
<path d="M206.2 305.5L210.8 305.1L211.2 330.5L206.7 331.5Z" clip-path="url(#cc0)" fill="#939393" fill-rule="evenodd" stroke="#939393" stroke-width="0.8" stroke-linejoin="round"/>
<path d="M245.4 286.8L250.0 285.7L250.0 325.3L245.4 325.3Z" clip-path="url(#cc0)" fill="#939393" fill-rule="evenodd" stroke="#939393" stroke-width="0.8" stroke-linejoin="round"/>
<path d="M265.0 296.1L268.8 295.1L268.8 328.4L265.0 328.4Z" clip-path="url(#cc0)" fill="#939393" fill-rule="evenodd" stroke="#939393" stroke-width="0.8" stroke-linejoin="round"/>
<path d="M296.9 306.5L302.1 305.5L302.5 339.9L296.9 339.9Z" clip-path="url(#cc0)" fill="#939393" fill-rule="evenodd" stroke="#939393" stroke-width="0.8" stroke-linejoin="round"/>
<path d="M335.4 301.3L343.8 299.2L344.2 336.8L339.6 338.8L335.4 334.7Z" clip-path="url(#cc0)" fill="#939393" fill-rule="evenodd" stroke="#939393" stroke-width="0.8" stroke-linejoin="round"/>
<path d="M330.2 312.8L339.6 307.6L340.6 314.9L333.3 315.9Z" clip-path="url(#cc0)" fill="#939393" fill-rule="evenodd" stroke="#939393" stroke-width="0.8" stroke-linejoin="round"/>
<path d="M205.8 304.9L211.2 303.5L211.9 329.2L209.2 330.6L208.5 337.4L206.1 337.4Z" clip-path="url(#cc1)" fill="#939393" fill-rule="evenodd" stroke="#939393" stroke-width="0.8" stroke-linejoin="round"/>
<path d="M245.7 289.3L249.1 289.3L249.1 326.5L245.7 326.5Z" clip-path="url(#cc1)" fill="#939393" fill-rule="evenodd" stroke="#939393" stroke-width="0.8" stroke-linejoin="round"/>
<path d="M262.7 295.4L266.7 295.1L266.7 328.6L262.7 328.6Z" clip-path="url(#cc1)" fill="#939393" fill-rule="evenodd" stroke="#939393" stroke-width="0.8" stroke-linejoin="round"/>
<path d="M296.0 304.6L299.2 303.5L301.8 305.6L301.8 336.6L296.0 336.6Z" clip-path="url(#cc2)" fill="#939393" fill-rule="evenodd" stroke="#939393" stroke-width="0.8" stroke-linejoin="round"/>
<path d="M330.4 314.0L336.7 303.5L339.8 298.9L342.9 301.5L345.0 310.8L343.4 336.6L335.6 336.6L334.6 320.2L331.5 318.1Z" clip-path="url(#cc2)" fill="#939393" fill-rule="evenodd" stroke="#939393" stroke-width="0.8" stroke-linejoin="round"/>
<path d="M296.0 315.5L301.2 315.5L301.2 341.0L296.0 341.0Z" clip-path="url(#cc3)" fill="#939393" fill-rule="evenodd" stroke="#939393" stroke-width="0.8" stroke-linejoin="round"/>
<path d="M335.6 315.5L343.4 315.5L343.4 336.8L339.3 338.4L335.6 334.8Z" clip-path="url(#cc3)" fill="#939393" fill-rule="evenodd" stroke="#939393" stroke-width="0.8" stroke-linejoin="round"/>
<path d="M359.8 190.8L362.9 188.8L364.6 199.2L360.8 199.2Z" clip-path="url(#cc4)" fill="#939393" fill-rule="evenodd" stroke="#939393" stroke-width="0.8" stroke-linejoin="round"/>
<path d="M371.2 188.8L375.0 186.7L376.5 197.1L372.9 199.2Z" clip-path="url(#cc4)" fill="#939393" fill-rule="evenodd" stroke="#939393" stroke-width="0.8" stroke-linejoin="round"/>
<path d="M387.9 195.0L393.1 189.8L399.4 189.8L396.2 199.2L391.0 205.4L388.3 203.3Z" clip-path="url(#cc4)" fill="#939393" fill-rule="evenodd" stroke="#939393" stroke-width="0.8" stroke-linejoin="round"/>
<path d="M423.3 188.8L429.6 185.6L432.7 190.8L436.9 186.7L443.1 184.6L444.2 192.9L437.9 199.2L427.5 199.2L423.3 195.0Z" clip-path="url(#cc4)" fill="#939393" fill-rule="evenodd" stroke="#939393" stroke-width="0.8" stroke-linejoin="round"/>
<path d="M510.8 190.8L517.1 189.8L521.2 191.9L517.1 194.0L510.8 193.3Z" clip-path="url(#cc4)" fill="#939393" fill-rule="evenodd" stroke="#939393" stroke-width="0.8" stroke-linejoin="round"/>
<path d="M539.6 201.2L541.0 199.6L553.5 199.6L554.6 203.3L552.9 206.9L540.4 206.9Z" clip-path="url(#cc4)" fill="#939393" fill-rule="evenodd" stroke="#939393" stroke-width="0.8" stroke-linejoin="round"/>
<path d="M359.6 192.8L361.7 190.2L364.8 191.3L365.3 199.1L362.7 202.7L360.1 199.1Z" clip-path="url(#cc5)" fill="#939393" fill-rule="evenodd" stroke="#939393" stroke-width="0.8" stroke-linejoin="round"/>
<path d="M371.6 191.3L373.6 187.6L376.2 189.2L376.8 198.0L374.2 201.7L372.1 198.6Z" clip-path="url(#cc5)" fill="#939393" fill-rule="evenodd" stroke="#939393" stroke-width="0.8" stroke-linejoin="round"/>
<path d="M386.7 198.0L389.3 190.2L394.0 186.6L402.8 187.1L402.8 192.8L398.1 201.2L392.9 208.5L389.8 207.4L387.2 203.2Z" clip-path="url(#cc5)" fill="#939393" fill-rule="evenodd" stroke="#939393" stroke-width="0.8" stroke-linejoin="round"/>
<path d="M422.6 189.7L426.2 185.5L435.6 184.0L442.9 182.4L445.0 186.6L444.0 197.0L439.8 200.6L428.3 201.7L423.6 198.0Z" clip-path="url(#cc5)" fill="#939393" fill-rule="evenodd" stroke="#939393" stroke-width="0.8" stroke-linejoin="round"/>
<path d="M340.0 302.4L342.5 303.4L342.5 312.8L340.0 313.8Z" clip-path="url(#cc6)" fill="#939393" fill-rule="evenodd" stroke="#939393" stroke-width="0.8" stroke-linejoin="round"/>
<path d="M393.1 302.4L398.3 298.2L403.5 307.6L400.4 313.8L394.6 309.7Z" clip-path="url(#cc6)" fill="#939393" fill-rule="evenodd" stroke="#939393" stroke-width="0.8" stroke-linejoin="round"/>
<path d="M433.5 278.6L434.6 269.5L438.8 263.2L442.4 257.0L444.0 259.1L446.0 264.3L449.2 258.0L450.2 247.6L453.3 245.5L457.5 246.6L460.6 243.5L465.8 240.3L467.9 242.4L474.2 242.4L478.3 240.3L481.5 242.4L482.5 252.8L485.6 260.1L490.8 266.4L499.2 266.4L507.5 263.2L515.5 262.2L515.5 278.6Z" clip-path="url(#cc7)" fill="#939393" fill-rule="evenodd" stroke="#939393" stroke-width="0.8" stroke-linejoin="round"/>
<path d="M395.0 295.7L398.1 296.8L399.2 302.0L395.0 304.0Z" clip-path="url(#cc8)" fill="#939393" fill-rule="evenodd" stroke="#939393" stroke-width="0.8" stroke-linejoin="round"/>
<path d="M401.2 302.0L406.5 304.0L407.5 312.4L403.3 319.7L400.2 312.4Z" clip-path="url(#cc8)" fill="#939393" fill-rule="evenodd" stroke="#939393" stroke-width="0.8" stroke-linejoin="round"/>
<path d="M429.4 292.6L433.5 284.2L436.7 277.5L463.8 277.5L463.8 291.5L457.5 295.7L453.3 304.0L447.1 308.2L439.8 309.2L435.6 307.2L432.5 300.9Z" clip-path="url(#cc8)" fill="#939393" fill-rule="evenodd" stroke="#939393" stroke-width="0.8" stroke-linejoin="round"/>
<path d="M446.6 312.4L451.2 310.3L456.5 313.4L456.5 319.7L451.2 321.8L446.6 319.7Z" clip-path="url(#cc8)" fill="#939393" fill-rule="evenodd" stroke="#939393" stroke-width="0.8" stroke-linejoin="round"/>
<path d="M488.2 316.5L495.0 312.9L503.3 314.5L504.9 319.7L501.2 324.6L488.8 324.6Z" clip-path="url(#cc8)" fill="#939393" fill-rule="evenodd" stroke="#939393" stroke-width="0.8" stroke-linejoin="round"/>
<path d="M505.4 287.4L509.6 284.2L515.5 283.2L515.5 297.8L508.5 295.7Z" clip-path="url(#cc8)" fill="#939393" fill-rule="evenodd" stroke="#939393" stroke-width="0.8" stroke-linejoin="round"/>
<path d="M480.4 277.5L515.5 277.5L515.5 282.2L505.4 283.7L483.5 284.2L480.4 283.2Z" clip-path="url(#cc8)" fill="#939393" fill-rule="evenodd" stroke="#939393" stroke-width="0.8" stroke-linejoin="round"/>
<path d="M517.5 248.7L522.7 242.9L529.0 240.9L535.2 241.9L538.3 247.6L539.9 278.6L504.5 278.6L504.5 262.2Z" clip-path="url(#cc9)" fill="#939393" fill-rule="evenodd" stroke="#939393" stroke-width="0.8" stroke-linejoin="round"/>
<path d="M504.5 285.3L513.3 284.2L525.8 286.3L529.0 284.2L534.2 283.7L525.8 291.5L532.1 298.8L540.4 303.0L540.4 324.6L519.6 324.6L520.6 314.5L526.9 308.2L519.6 300.9L511.2 295.7L504.5 290.5Z" clip-path="url(#cc10)" fill="#939393" fill-rule="evenodd" stroke="#939393" stroke-width="0.8" stroke-linejoin="round"/>
<path d="M571.7 300.9L577.9 297.8L586.2 298.8L589.4 307.2L591.5 314.5L587.3 319.7L571.7 319.7L569.6 314.5L573.8 308.2Z" clip-path="url(#cc10)" fill="#939393" fill-rule="evenodd" stroke="#939393" stroke-width="0.8" stroke-linejoin="round"/>
<path d="M608.1 282.2L612.3 279.0L619.6 279.0L623.2 282.2L619.6 285.8L612.3 285.8Z" clip-path="url(#cc10)" fill="#939393" fill-rule="evenodd" stroke="#939393" stroke-width="0.8" stroke-linejoin="round"/>
<path d="M509.2 277.5L536.2 277.5L533.1 282.2L525.8 283.2L515.4 282.2Z" clip-path="url(#cc10)" fill="#939393" fill-rule="evenodd" stroke="#939393" stroke-width="0.8" stroke-linejoin="round"/>
<path d="M520.0 315.0L528.3 322.2L540.8 324.3L561.7 322.2L567.9 315.0Z" clip-path="url(#cc11)" fill="#939393" fill-rule="evenodd" stroke="#939393" stroke-width="0.8" stroke-linejoin="round"/>
<path d="M465.8 315.0L478.3 320.2L499.2 321.2L503.3 315.0Z" clip-path="url(#cc11)" fill="#939393" fill-rule="evenodd" stroke="#939393" stroke-width="0.8" stroke-linejoin="round"/>
<path d="M388.6 301.3L396.5 295.0L399.6 297.6L397.5 301.8L402.7 300.8L406.9 306.0L406.9 317.4L402.7 319.5L394.4 311.2L393.3 304.9Z" clip-path="url(#cc12)" fill="#939393" fill-rule="evenodd" stroke="#939393" stroke-width="0.8" stroke-linejoin="round"/>
<path d="M434.0 316.4L431.9 308.0L431.9 295.5L435.0 288.2L438.1 281.5L455.5 281.5L455.5 328.6L439.2 328.6Z" clip-path="url(#cc12)" fill="#939393" fill-rule="evenodd" stroke="#939393" stroke-width="0.8" stroke-linejoin="round"/>
<path d="M725.2 192.9L732.5 189.8L742.9 190.8L747.1 195.0L742.9 199.6L733.5 200.2L727.3 197.1Z" fill="#939393" fill-rule="evenodd" stroke="#939393" stroke-width="0.8" stroke-linejoin="round"/>
<path d="M802.3 191.9L810.0 190.8L810.0 198.8L802.9 198.1Z" fill="#939393" fill-rule="evenodd" stroke="#939393" stroke-width="0.8" stroke-linejoin="round"/>
<path d="M570.0 301.3L578.3 298.2L586.7 301.3L590.8 313.8L588.8 324.2L578.3 327.4L570.0 324.2Z" clip-path="url(#cc13)" fill="#939393" fill-rule="evenodd" stroke="#939393" stroke-width="0.8" stroke-linejoin="round"/>
<path d="M608.5 279.5L617.9 278.0L623.8 281.5L621.0 286.3L611.7 286.8L607.9 283.6Z" clip-path="url(#cc13)" fill="#939393" fill-rule="evenodd" stroke="#939393" stroke-width="0.8" stroke-linejoin="round"/>
<path d="M676.2 330.1L684.6 328.4L696.0 330.1L695.0 332.6L682.5 333.2L676.7 332.2Z" clip-path="url(#cc13)" fill="#939393" fill-rule="evenodd" stroke="#939393" stroke-width="0.8" stroke-linejoin="round"/>
<path d="M805.0 330.1L810.0 329.5L810.0 332.2L805.4 331.5Z" clip-path="url(#cc13)" fill="#939393" fill-rule="evenodd" stroke="#939393" stroke-width="0.8" stroke-linejoin="round"/>
<path d="M806.2 194.0L812.5 189.8L820.8 186.7L827.1 189.8L835.4 187.7L844.8 185.6L844.8 190.8L835.4 195.0L820.8 197.1L808.3 197.5Z" clip-path="url(#cc14)" fill="#939393" fill-rule="evenodd" stroke="#939393" stroke-width="0.8" stroke-linejoin="round"/>
<path d="M868.8 195.4L883.3 194.0L893.8 196.0L901.0 201.2L904.2 207.5L918.8 207.5L920.4 226.2L915.6 230.0L908.3 230.4L902.1 226.2L901.0 211.7L892.7 208.5L885.4 203.3L881.2 199.2L869.8 197.5Z" clip-path="url(#cc14)" fill="#939393" fill-rule="evenodd" stroke="#939393" stroke-width="0.8" stroke-linejoin="round"/>
<path d="M868.3 220.4L872.9 218.3L879.2 218.3L882.3 221.0L879.2 223.8L871.9 224.2Z" clip-path="url(#cc14)" fill="#939393" fill-rule="evenodd" stroke="#939393" stroke-width="0.8" stroke-linejoin="round"/>
<path d="M918.3 245.0L922.9 240.4L928.1 239.2L933.3 240.8L935.8 245.0L933.3 251.2L927.5 253.3L921.2 251.2Z" clip-path="url(#cc14)" fill="#939393" fill-rule="evenodd" stroke="#939393" stroke-width="0.8" stroke-linejoin="round"/>
<path d="M974.0 201.7L987.5 202.3L1000.0 205.0L1010.4 202.9L1010.4 207.1L1008.3 217.9L1014.6 224.2L1012.5 230.4L1006.2 233.5L994.8 232.1L989.6 228.3L987.5 211.7L981.2 206.5L975.0 204.4Z" clip-path="url(#cc14)" fill="#939393" fill-rule="evenodd" stroke="#939393" stroke-width="0.8" stroke-linejoin="round"/>
<path d="M907.3 187.1L911.5 186.2L913.5 188.8L910.0 190.4Z" clip-path="url(#cc14)" fill="#939393" fill-rule="evenodd" stroke="#939393" stroke-width="0.8" stroke-linejoin="round"/>
<path d="M922.9 285.7L933.3 278.4L943.8 277.4L946.9 282.6L943.8 290.9L950.0 297.2L945.8 303.4L935.4 301.3L929.2 294.0Z" clip-path="url(#cc14)" fill="#939393" fill-rule="evenodd" stroke="#939393" stroke-width="0.8" stroke-linejoin="round"/>
<path d="M833.3 338.8L841.7 334.7L852.1 336.8L858.3 339.9L850.0 343.0L837.5 343.0Z" clip-path="url(#cc14)" fill="#939393" fill-rule="evenodd" stroke="#939393" stroke-width="0.8" stroke-linejoin="round"/>
<path d="M804.2 330.1L810.4 329.5L812.5 331.5L806.2 332.6Z" clip-path="url(#cc14)" fill="#939393" fill-rule="evenodd" stroke="#939393" stroke-width="0.8" stroke-linejoin="round"/>
<path d="M919.1 244.3L922.7 239.6L932.1 239.1L936.8 243.3L936.2 251.6L931.0 255.8L923.8 254.8L919.6 250.6Z" clip-path="url(#cc15)" fill="#939393" fill-rule="evenodd" stroke="#939393" stroke-width="0.8" stroke-linejoin="round"/>
<path d="M940.9 268.3L944.6 265.2L948.2 268.3L944.6 271.9Z" clip-path="url(#cc15)" fill="#939393" fill-rule="evenodd" stroke="#939393" stroke-width="0.8" stroke-linejoin="round"/>
<path d="M931.0 282.6L936.2 279.2L942.5 277.7L946.7 282.6Z" clip-path="url(#cc15)" fill="#939393" fill-rule="evenodd" stroke="#939393" stroke-width="0.8" stroke-linejoin="round"/>
<path d="M337.5 302.4L341.7 301.3L342.1 312.8L337.9 312.8Z" clip-path="url(#cc0)" fill="#757575" fill-rule="evenodd" stroke="#757575" stroke-width="0.8" stroke-linejoin="round"/>
<path d="M337.2 304.6L339.8 300.4L341.9 304.6L341.4 310.8L338.8 312.4L337.5 309.8Z" clip-path="url(#cc2)" fill="#757575" fill-rule="evenodd" stroke="#757575" stroke-width="0.8" stroke-linejoin="round"/>
<path d="M390.0 196.0L394.2 192.9L396.2 196.0L393.1 203.3L390.0 202.3Z" clip-path="url(#cc4)" fill="#757575" fill-rule="evenodd" stroke="#757575" stroke-width="0.8" stroke-linejoin="round"/>
<path d="M424.4 192.9L427.5 190.8L429.6 196.0L425.8 198.1Z" clip-path="url(#cc4)" fill="#757575" fill-rule="evenodd" stroke="#757575" stroke-width="0.8" stroke-linejoin="round"/>
<path d="M434.8 189.8L439.0 187.7L440.0 196.0L435.8 198.1Z" clip-path="url(#cc4)" fill="#757575" fill-rule="evenodd" stroke="#757575" stroke-width="0.8" stroke-linejoin="round"/>
<path d="M360.8 192.9L362.9 191.9L363.3 198.1L361.2 198.1Z" clip-path="url(#cc4)" fill="#757575" fill-rule="evenodd" stroke="#757575" stroke-width="0.8" stroke-linejoin="round"/>
<path d="M372.3 190.8L374.8 189.8L375.4 196.0L372.9 197.1Z" clip-path="url(#cc4)" fill="#757575" fill-rule="evenodd" stroke="#757575" stroke-width="0.8" stroke-linejoin="round"/>
<path d="M360.8 194.4L362.5 192.3L364.0 194.4L363.8 199.6L362.2 201.2L360.8 198.6Z" clip-path="url(#cc5)" fill="#757575" fill-rule="evenodd" stroke="#757575" stroke-width="0.8" stroke-linejoin="round"/>
<path d="M372.6 191.8L374.4 188.7L376.0 191.8L375.7 198.0L374.0 200.1L372.7 197.0Z" clip-path="url(#cc5)" fill="#757575" fill-rule="evenodd" stroke="#757575" stroke-width="0.8" stroke-linejoin="round"/>
<path d="M388.8 198.0L390.8 192.3L395.0 190.2L399.2 192.8L397.1 199.1L392.4 206.9L389.8 204.3Z" clip-path="url(#cc5)" fill="#757575" fill-rule="evenodd" stroke="#757575" stroke-width="0.8" stroke-linejoin="round"/>
<path d="M424.0 192.8L427.3 189.2L431.5 192.8L435.6 187.6L440.3 185.0L442.4 187.6L441.9 196.5L438.8 199.6L428.3 200.1L424.4 197.0Z" clip-path="url(#cc5)" fill="#757575" fill-rule="evenodd" stroke="#757575" stroke-width="0.8" stroke-linejoin="round"/>
<path d="M436.7 278.6L437.7 270.5L441.9 265.3L444.0 267.4L447.1 273.7L450.2 267.4L451.2 259.1L454.4 257.0L457.5 259.1L461.7 263.2L463.8 278.6Z" clip-path="url(#cc7)" fill="#757575" fill-rule="evenodd" stroke="#757575" stroke-width="0.8" stroke-linejoin="round"/>
<path d="M433.5 290.5L436.7 282.2L438.8 277.5L453.3 277.5L451.2 286.3L447.1 292.6L446.0 297.8L440.8 298.8L436.7 296.8Z" clip-path="url(#cc8)" fill="#757575" fill-rule="evenodd" stroke="#757575" stroke-width="0.8" stroke-linejoin="round"/>
<path d="M455.4 277.5L462.7 277.5L462.7 288.4L458.5 290.5L456.5 287.4Z" clip-path="url(#cc8)" fill="#757575" fill-rule="evenodd" stroke="#757575" stroke-width="0.8" stroke-linejoin="round"/>
<path d="M520.6 252.8L525.8 245.5L532.1 243.5L536.2 248.7L536.2 278.6L511.2 278.6L515.4 263.2Z" clip-path="url(#cc9)" fill="#757575" fill-rule="evenodd" stroke="#757575" stroke-width="0.8" stroke-linejoin="round"/>
<path d="M435.0 288.2L438.1 281.5L455.5 281.5L455.5 288.2L448.5 297.6L444.4 302.8L439.2 302.8L436.0 297.6Z" clip-path="url(#cc12)" fill="#757575" fill-rule="evenodd" stroke="#757575" stroke-width="0.8" stroke-linejoin="round"/>
<path d="M728.8 193.3L735.6 190.8L741.9 192.5L744.0 196.0L739.8 198.8L732.9 198.1Z" fill="#757575" fill-rule="evenodd" stroke="#757575" stroke-width="0.8" stroke-linejoin="round"/>
<path d="M816.7 190.8L821.9 187.7L826.0 190.8L827.1 197.1L817.7 197.7Z" clip-path="url(#cc14)" fill="#757575" fill-rule="evenodd" stroke="#757575" stroke-width="0.8" stroke-linejoin="round"/>
<path d="M872.9 195.4L885.4 195.4L892.7 198.1L896.9 203.3L894.8 206.5L889.6 204.4L884.4 199.2L874.0 197.1Z" clip-path="url(#cc14)" fill="#757575" fill-rule="evenodd" stroke="#757575" stroke-width="0.8" stroke-linejoin="round"/>
<path d="M905.2 211.7L910.4 208.5L915.6 211.7L916.7 224.2L912.5 228.8L907.3 227.3L905.2 220.0Z" clip-path="url(#cc14)" fill="#757575" fill-rule="evenodd" stroke="#757575" stroke-width="0.8" stroke-linejoin="round"/>
<path d="M921.9 246.0L926.0 241.9L930.2 242.5L932.3 246.0L929.6 250.2L924.6 250.2Z" clip-path="url(#cc14)" fill="#757575" fill-rule="evenodd" stroke="#757575" stroke-width="0.8" stroke-linejoin="round"/>
<path d="M990.6 208.5L997.9 207.5L1003.1 211.7L1005.2 224.2L1003.1 230.4L995.8 230.4L991.7 226.2Z" clip-path="url(#cc14)" fill="#757575" fill-rule="evenodd" stroke="#757575" stroke-width="0.8" stroke-linejoin="round"/>
<path d="M922.7 244.3L925.8 241.2L932.1 241.7L934.2 246.4L931.0 251.6L925.8 252.1L922.7 248.5Z" clip-path="url(#cc15)" fill="#757575" fill-rule="evenodd" stroke="#757575" stroke-width="0.8" stroke-linejoin="round"/>
<path d="M373.3 192.3L374.7 190.2L375.7 192.8L375.2 197.5L374.0 198.6Z" clip-path="url(#cc5)" fill="#585858" fill-rule="evenodd" stroke="#585858" stroke-width="0.8" stroke-linejoin="round"/>
<path d="M390.0 198.0L391.7 193.9L395.5 195.4L394.0 201.2L391.9 205.9L390.3 203.2Z" clip-path="url(#cc5)" fill="#585858" fill-rule="evenodd" stroke="#585858" stroke-width="0.8" stroke-linejoin="round"/>
<path d="M424.7 194.4L426.8 192.8L427.8 197.0L425.2 198.0Z" clip-path="url(#cc5)" fill="#585858" fill-rule="evenodd" stroke="#585858" stroke-width="0.8" stroke-linejoin="round"/>
<path d="M435.1 192.8L437.7 189.7L439.8 190.2L439.3 197.5L435.6 198.6Z" clip-path="url(#cc5)" fill="#585858" fill-rule="evenodd" stroke="#585858" stroke-width="0.8" stroke-linejoin="round"/>
<path d="M453.9 278.6L453.3 266.4L455.4 260.1L459.6 262.2L462.7 266.4L463.2 278.6Z" clip-path="url(#cc7)" fill="#585858" fill-rule="evenodd" stroke="#585858" stroke-width="0.8" stroke-linejoin="round"/>
<path d="M439.8 278.6L441.9 273.7L445.0 272.1L448.1 275.8L449.2 278.6Z" clip-path="url(#cc7)" fill="#585858" fill-rule="evenodd" stroke="#585858" stroke-width="0.8" stroke-linejoin="round"/>
<path d="M436.7 277.5L450.2 277.5L448.1 285.3L445.0 289.5L444.0 293.6L439.8 294.7L437.2 290.5Z" clip-path="url(#cc8)" fill="#585858" fill-rule="evenodd" stroke="#585858" stroke-width="0.8" stroke-linejoin="round"/>
<path d="M457.5 277.5L462.2 277.5L462.2 287.4L459.1 288.9L457.3 286.3Z" clip-path="url(#cc8)" fill="#585858" fill-rule="evenodd" stroke="#585858" stroke-width="0.8" stroke-linejoin="round"/>
<path d="M519.6 278.6L523.8 259.1L527.9 250.8L532.3 248.7L533.1 278.6Z" clip-path="url(#cc9)" fill="#585858" fill-rule="evenodd" stroke="#585858" stroke-width="0.8" stroke-linejoin="round"/>
<path d="M518.5 277.5L533.1 277.5L531.0 281.1L523.8 282.2Z" clip-path="url(#cc10)" fill="#585858" fill-rule="evenodd" stroke="#585858" stroke-width="0.8" stroke-linejoin="round"/>
<path d="M438.1 281.5L449.6 281.5L448.5 288.2L444.4 294.5L439.2 293.5L437.6 288.2Z" clip-path="url(#cc12)" fill="#585858" fill-rule="evenodd" stroke="#585858" stroke-width="0.8" stroke-linejoin="round"/>
<path d="M732.5 193.3L736.7 191.9L740.4 194.0L739.8 197.1L735.6 197.7L732.9 196.0Z" fill="#585858" fill-rule="evenodd" stroke="#585858" stroke-width="0.8" stroke-linejoin="round"/>
<path d="M818.3 192.5L821.9 189.8L824.6 191.9L825.4 196.7L818.8 197.1Z" clip-path="url(#cc14)" fill="#585858" fill-rule="evenodd" stroke="#585858" stroke-width="0.8" stroke-linejoin="round"/>
<path d="M887.5 198.1L891.7 199.2L894.8 203.3L893.3 205.4L890.0 202.9Z" clip-path="url(#cc14)" fill="#585858" fill-rule="evenodd" stroke="#585858" stroke-width="0.8" stroke-linejoin="round"/>
<path d="M907.9 213.8L910.4 211.2L912.9 213.8L913.5 223.1L910.8 226.7L908.3 224.6Z" clip-path="url(#cc14)" fill="#585858" fill-rule="evenodd" stroke="#585858" stroke-width="0.8" stroke-linejoin="round"/>
<path d="M993.8 210.6L997.9 209.6L1001.0 214.8L1002.5 224.2L1000.0 228.8L995.8 228.3L993.8 222.1Z" clip-path="url(#cc14)" fill="#585858" fill-rule="evenodd" stroke="#585858" stroke-width="0.8" stroke-linejoin="round"/>
<path d="M925.0 245.4L927.5 243.3L929.6 246.0L927.5 248.8L925.4 248.1Z" clip-path="url(#cc14)" fill="#585858" fill-rule="evenodd" stroke="#585858" stroke-width="0.8" stroke-linejoin="round"/>
<path d="M925.8 244.9L927.4 242.8L929.5 244.9L929.0 247.5L926.4 247.5Z" clip-path="url(#cc15)" fill="#585858" fill-rule="evenodd" stroke="#585858" stroke-width="0.8" stroke-linejoin="round"/>
</g>
</g>
<line x1="127.45" y1="172.5" x2="1094.3" y2="172.5" stroke="#707070" stroke-width="1" stroke-dasharray="1 1.04"/>
<line x1="127.45" y1="209.5" x2="1094.3" y2="209.5" stroke="#707070" stroke-width="1" stroke-dasharray="1 1.04"/>
<line x1="127.45" y1="247.5" x2="1094.3" y2="247.5" stroke="#707070" stroke-width="1" stroke-dasharray="1 1.04"/>
<line x1="127.45" y1="284.5" x2="1094.3" y2="284.5" stroke="#707070" stroke-width="1" stroke-dasharray="1 1.04"/>
<line x1="127.45" y1="321.5" x2="1094.3" y2="321.5" stroke="#707070" stroke-width="1" stroke-dasharray="1 1.04"/>
<line x1="265.5" y1="97.4" x2="265.5" y2="359.2" stroke="#000" stroke-opacity="0.36" stroke-width="1"/>
<line x1="403.5" y1="97.4" x2="403.5" y2="359.2" stroke="#000" stroke-opacity="0.36" stroke-width="1"/>
<line x1="541.5" y1="97.4" x2="541.5" y2="359.2" stroke="#000" stroke-opacity="0.36" stroke-width="1"/>
<line x1="680.5" y1="97.4" x2="680.5" y2="359.2" stroke="#000" stroke-opacity="0.36" stroke-width="1"/>
<line x1="818.5" y1="97.4" x2="818.5" y2="359.2" stroke="#000" stroke-opacity="0.36" stroke-width="1"/>
<line x1="956.5" y1="97.4" x2="956.5" y2="359.2" stroke="#000" stroke-opacity="0.36" stroke-width="1"/>
<g id="bars">
<rect x="395.17" y="350.9" width="4.05" height="8.3" fill="#0050fa"/>
<rect x="400.93" y="343.8" width="4.05" height="15.4" fill="#0050fa"/>
<rect x="406.69" y="341" width="4.05" height="18.2" fill="#0050fa"/>
<rect x="412.44" y="324" width="4.05" height="35.2" fill="#0050fa"/>
<rect x="418.20" y="341" width="4.05" height="18.2" fill="#0050fa"/>
<rect x="423.96" y="341" width="4.05" height="18.2" fill="#0050fa"/>
<rect x="429.72" y="339.2" width="4.05" height="20.0" fill="#0050fa"/>
<rect x="435.47" y="313.9" width="4.05" height="45.3" fill="#0050fa"/>
<rect x="441.23" y="321" width="4.05" height="38.2" fill="#0050fa"/>
<rect x="446.99" y="354" width="4.05" height="5.2" fill="#0050fa"/>
<rect x="452.74" y="339.2" width="4.05" height="20.0" fill="#0050fa"/>
<rect x="458.50" y="298.9" width="4.05" height="60.3" fill="#0050fa"/>
<rect x="464.26" y="258" width="4.05" height="101.2" fill="#0050fa"/>
<rect x="470.01" y="201.7" width="4.05" height="157.5" fill="#0050fa"/>
<rect x="475.77" y="244" width="4.05" height="115.2" fill="#0050fa"/>
<rect x="481.53" y="324" width="4.05" height="35.2" fill="#0050fa"/>
<rect x="487.28" y="324" width="4.05" height="35.2" fill="#0050fa"/>
<rect x="493.04" y="339.2" width="4.05" height="20.0" fill="#0050fa"/>
<rect x="498.80" y="341" width="4.05" height="18.2" fill="#0050fa"/>
<rect x="504.56" y="334" width="4.05" height="25.2" fill="#0050fa"/>
<rect x="510.31" y="350.9" width="4.05" height="8.3" fill="#0050fa"/>
<rect x="516.07" y="355.9" width="4.05" height="3.3" fill="#0050fa"/>
<rect x="521.83" y="354" width="4.05" height="5.2" fill="#0050fa"/>
<rect x="527.58" y="350.9" width="4.05" height="8.3" fill="#0050fa"/>
<rect x="533.34" y="350.9" width="4.05" height="8.3" fill="#0050fa"/>
<rect x="539.10" y="303.7" width="4.05" height="55.5" fill="#0050fa"/>
<rect x="544.85" y="297" width="4.05" height="62.2" fill="#0050fa"/>
<rect x="550.61" y="310" width="4.05" height="49.2" fill="#0050fa"/>
<rect x="556.37" y="333.1" width="4.05" height="26.1" fill="#0050fa"/>
<rect x="562.12" y="350.9" width="4.05" height="8.3" fill="#0050fa"/>
<rect x="567.88" y="355" width="4.05" height="4.2" fill="#0050fa"/>
<rect x="573.64" y="353.7" width="4.05" height="5.5" fill="#0050fa"/>
<rect x="579.40" y="353.7" width="4.05" height="5.5" fill="#10d8c8"/>
<rect x="585.15" y="355" width="4.05" height="4.2" fill="#0050fa"/>
<rect x="590.91" y="354.6" width="4.05" height="4.6" fill="#0050fa"/>
<rect x="596.67" y="355.8" width="4.05" height="3.4" fill="#10d8c8"/>
<rect x="602.42" y="357" width="4.05" height="2.2" fill="#10d8c8"/>
<rect x="608.18" y="358" width="4.05" height="1.2" fill="#10d8c8"/>
<rect x="723.32" y="358" width="4.05" height="1.2" fill="#0050fa"/>
<rect x="729.07" y="357.7" width="4.05" height="1.5" fill="#0050fa"/>
<rect x="734.83" y="357.7" width="4.05" height="1.5" fill="#0050fa"/>
<rect x="740.59" y="357.7" width="4.05" height="1.5" fill="#0050fa"/>
<rect x="746.35" y="357.7" width="4.05" height="1.5" fill="#0050fa"/>
<rect x="752.10" y="357.7" width="4.05" height="1.5" fill="#0050fa"/>
<rect x="757.86" y="357.7" width="4.05" height="1.5" fill="#0050fa"/>
<rect x="763.62" y="358" width="4.05" height="1.2" fill="#0050fa"/>
<rect x="815.43" y="357" width="4.05" height="2.2" fill="#0050fa"/>
<rect x="821.18" y="356" width="4.05" height="3.2" fill="#0050fa"/>
<rect x="826.94" y="357" width="4.05" height="2.2" fill="#0050fa"/>
<rect x="832.70" y="358" width="4.05" height="1.2" fill="#0050fa"/>
<rect x="878.75" y="358" width="4.05" height="1.2" fill="#0050fa"/>
<rect x="884.51" y="357" width="4.05" height="2.2" fill="#0050fa"/>
<rect x="890.27" y="356" width="4.05" height="3.2" fill="#0050fa"/>
<rect x="896.02" y="357" width="4.05" height="2.2" fill="#10d8c8"/>
<rect x="901.78" y="358" width="4.05" height="1.2" fill="#10d8c8"/>
<rect x="919.05" y="358" width="4.05" height="1.2" fill="#10d8c8"/>
<rect x="924.81" y="351.9" width="4.05" height="7.3" fill="#10d8c8"/>
<rect x="930.57" y="337.9" width="4.05" height="21.3" fill="#10d8c8"/>
<rect x="936.32" y="317.9" width="4.05" height="41.3" fill="#10d8c8"/>
<rect x="942.08" y="302.9" width="4.05" height="56.3" fill="#10d8c8"/>
<rect x="947.84" y="296" width="4.05" height="63.2" fill="#10d8c8"/>
<rect x="1022.68" y="354" width="4.05" height="5.2" fill="#0050fa"/>
<rect x="1028.43" y="354" width="4.05" height="5.2" fill="#0050fa"/>
<rect x="435.47" y="349" width="4.05" height="10" fill="#10d8c8"/>
<rect x="441.23" y="350.9" width="4.05" height="8.1" fill="#10d8c8"/>
</g>
<polyline fill="none" stroke="#fa0000" stroke-width="3.2" stroke-linejoin="round" stroke-linecap="butt" points="127.3,303.2 136.7,297.5 144.6,292.9 150.2,292.1 161.7,293.5 166.9,293.1 173.1,290.8 180.4,284.6 188.8,274.2 195.4,266.2 203.3,263.8 212.7,260.8 217.9,267.9 224.2,276.2 230.4,283.5 238.8,288.8 247.1,292.5 257.5,292.9 264.8,291.2 274.2,285.6 282.5,280.4 299.2,274.6 307.5,261.7 315.8,249.2 321.7,243.3 328.3,241.9 334.6,242.9 338.8,244.4 345.0,244.6 351.2,246.7 356.2,251.7 364.6,261.0 370.8,265.2 377.1,266.2 383.3,264.6 391.7,261.0 402.1,251.7 410.4,245.4 415.6,242.9 422.9,242.3 435.4,241.9 447.9,239.2 459.4,236.7 466.7,238.1 477.1,241.2 488.5,242.3 495.8,244.4 506.2,249.2 514.6,249.6 529.2,247.5 537.5,246.5 545.8,244.4 552.1,239.2 558.3,238.1 570.8,237.5 579.2,235.6 588.3,229.8 594.6,226.7 600.8,225.8 611.2,226.2 627.9,230.4 636.2,237.1 644.6,242.7 657.1,246.5 671.7,248.3 694.6,248.3 714.4,248.1 721.7,245.4 732.1,238.8 741.5,234.0 748.8,233.3 759.2,233.5 765.4,235.4 773.8,242.3 783.1,252.7 790.4,255.4 800.8,256.9 810.4,257.9 820.8,256.2 835.4,254.2 845.8,253.8 852.1,251.7 860.4,244.4 868.8,236.0 876.0,231.9 883.3,230.8 893.8,232.3 904.2,236.0 914.6,242.3 921.9,247.1 927.1,248.3 935.4,247.1 943.8,246.7 956.2,249.0 972.9,251.7 990.3,254.1 999.0,249.2 1006.2,243.3 1012.5,239.9 1017.9,238.8 1025.0,240.5 1033.4,245.4 1043.6,254.2 1053.6,264.3 1060.3,270.1 1067.0,273.5 1077.0,277.3 1088.7,281.8 1094.5,284.8"/>
<g id="icons">
<path d="M152.1 100.7 C142.1 101.1 137.7 107.5 137.7 113.5 C137.7 119.5 142.1 125.9 152.1 126.3 C147.7 122.0 146.3 117.5 146.3 113.5 C146.3 109.5 147.7 105.0 152.1 100.7Z" fill="#fdfdfd" stroke="#000" stroke-width="1.4" stroke-linejoin="round"/>
<path d="M186.0 114.8L190.1 115.8M182.4 119.8L184.7 123.4M176.4 120.8L175.4 125.0M171.4 117.2L167.7 119.5M170.4 111.2L166.2 110.2M173.9 106.2L171.6 102.6M180.0 105.2L180.9 101.0M184.9 108.8L188.6 106.5" stroke="#f4cf3a" stroke-width="3.0" stroke-linecap="round" fill="none"/><path d="M186.0 114.8L190.1 115.8M182.4 119.8L184.7 123.4M176.4 120.8L175.4 125.0M171.4 117.2L167.7 119.5M170.4 111.2L166.2 110.2M173.9 106.2L171.6 102.6M180.0 105.2L180.9 101.0M184.9 108.8L188.6 106.5" stroke="#f2e71e" stroke-width="2.0" stroke-linecap="round" fill="none"/><circle cx="178.2" cy="113.0" r="6.3" fill="#f2e71e" stroke="#f5a623" stroke-width="0.9"/>
<path d="M218.8 115.1L223.0 116.1M215.2 120.1L217.5 123.7M209.2 121.1L208.2 125.3M204.2 117.5L200.6 119.8M203.2 111.5L199.0 110.5M206.8 106.5L204.5 102.9M212.8 105.5L213.8 101.3M217.8 109.1L221.4 106.8" stroke="#f4cf3a" stroke-width="3.0" stroke-linecap="round" fill="none"/><path d="M218.8 115.1L223.0 116.1M215.2 120.1L217.5 123.7M209.2 121.1L208.2 125.3M204.2 117.5L200.6 119.8M203.2 111.5L199.0 110.5M206.8 106.5L204.5 102.9M212.8 105.5L213.8 101.3M217.8 109.1L221.4 106.8" stroke="#f2e71e" stroke-width="2.0" stroke-linecap="round" fill="none"/><circle cx="211.0" cy="113.3" r="6.3" fill="#f2e71e" stroke="#f5a623" stroke-width="0.9"/><path d="M214.4 125.4 C211.6 125.4 210.7 123.4 210.7 121.8 C210.7 119.8 212.4 118.2 214.5 118.4 C214.8 115.6 217.2 113.9 219.8 113.9 C222.3 113.9 224.1 115.4 224.3 117.8 C226.6 117.7 228.2 119.4 228.2 121.6 C228.2 123.7 226.6 125.4 224.5 125.4 C223.0 125.8 221.6 125.4 220.5 124.9 C219.1 125.8 216.2 125.8 214.4 125.4Z" fill="#fbfbfb" stroke="#2458b4" stroke-width="1.6" stroke-linejoin="round"/><path d="M224.3 117.8 C222.7 118.1 221.4 119.1 221.0 120.7" fill="none" stroke="#2458b4" stroke-width="1.6" stroke-linecap="round"/>
<path d="M247.9 100.7 C237.9 101.1 233.5 107.5 233.5 113.5 C233.5 119.5 237.9 125.9 247.9 126.3 C243.5 122.0 242.1 117.5 242.1 113.5 C242.1 109.5 243.5 105.0 247.9 100.7Z" fill="#fdfdfd" stroke="#000" stroke-width="1.4" stroke-linejoin="round"/><path d="M243.6 126.3 C239.6 126.3 238.4 123.5 238.4 121.3 C238.4 118.5 240.7 116.3 243.7 116.6 C244.1 112.8 247.4 110.4 251.1 110.4 C254.6 110.4 257.1 112.5 257.4 115.8 C260.6 115.6 262.8 118.0 262.8 121.0 C262.8 124.0 260.6 126.3 257.6 126.3 C255.6 126.8 253.6 126.3 252.1 125.6 C250.1 126.8 246.1 126.8 243.6 126.3Z" fill="#d3d3d3" stroke="#2d4d73" stroke-width="1.4" stroke-linejoin="round"/><path d="M257.4 115.8 C255.1 116.2 253.3 117.6 252.7 119.8" fill="none" stroke="#2d4d73" stroke-width="1.4" stroke-linecap="round"/>
<path d="M282.5 100.7 C272.5 101.1 268.1 107.5 268.1 113.5 C268.1 119.5 272.5 125.9 282.5 126.3 C278.1 122.0 276.7 117.5 276.7 113.5 C276.7 109.5 278.1 105.0 282.5 100.7Z" fill="#fdfdfd" stroke="#000" stroke-width="1.4" stroke-linejoin="round"/><path d="M278.2 126.3 C274.2 126.3 273.0 123.5 273.0 121.3 C273.0 118.5 275.3 116.3 278.3 116.6 C278.7 112.8 282.0 110.4 285.7 110.4 C289.2 110.4 291.7 112.5 292.0 115.8 C295.2 115.6 297.4 118.0 297.4 121.0 C297.4 124.0 295.2 126.3 292.2 126.3 C290.2 126.8 288.2 126.3 286.7 125.6 C284.7 126.8 280.7 126.8 278.2 126.3Z" fill="#d3d3d3" stroke="#2d4d73" stroke-width="1.4" stroke-linejoin="round"/><path d="M292.0 115.8 C289.7 116.2 287.9 117.6 287.3 119.8" fill="none" stroke="#2d4d73" stroke-width="1.4" stroke-linecap="round"/>
<path d="M328.3 115.1L332.5 116.1M324.8 120.1L327.0 123.7M318.7 121.1L317.8 125.3M313.7 117.5L310.1 119.8M312.7 111.5L308.5 110.5M316.3 106.5L314.0 102.9M322.3 105.5L323.3 101.3M327.3 109.1L331.0 106.8" stroke="#f4cf3a" stroke-width="3.0" stroke-linecap="round" fill="none"/><path d="M328.3 115.1L332.5 116.1M324.8 120.1L327.0 123.7M318.7 121.1L317.8 125.3M313.7 117.5L310.1 119.8M312.7 111.5L308.5 110.5M316.3 106.5L314.0 102.9M322.3 105.5L323.3 101.3M327.3 109.1L331.0 106.8" stroke="#f2e71e" stroke-width="2.0" stroke-linecap="round" fill="none"/><circle cx="320.5" cy="113.3" r="6.3" fill="#f2e71e" stroke="#f5a623" stroke-width="0.9"/><path d="M306.1 127.6 C302.6 127.6 301.5 125.1 301.5 123.1 C301.5 120.6 303.5 118.6 306.2 118.8 C306.6 115.4 309.5 113.3 312.8 113.3 C315.9 113.3 318.2 115.2 318.4 118.1 C321.3 117.9 323.3 120.1 323.3 122.8 C323.3 125.5 321.3 127.6 318.6 127.6 C316.8 128.0 315.1 127.6 313.7 126.9 C311.9 128.0 308.4 128.0 306.1 127.6Z" fill="#d3d3d3" stroke="#2458b4" stroke-width="1.8" stroke-linejoin="round"/><path d="M318.4 118.1 C316.4 118.5 314.8 119.7 314.3 121.7" fill="none" stroke="#2458b4" stroke-width="1.8" stroke-linecap="round"/>
<path d="M362.9 115.1L367.1 116.1M359.3 120.1L361.6 123.7M353.3 121.1L352.3 125.3M348.3 117.5L344.6 119.8M347.3 111.5L343.1 110.5M350.8 106.5L348.6 102.9M356.9 105.5L357.8 101.3M361.9 109.1L365.5 106.8" stroke="#f4cf3a" stroke-width="3.0" stroke-linecap="round" fill="none"/><path d="M362.9 115.1L367.1 116.1M359.3 120.1L361.6 123.7M353.3 121.1L352.3 125.3M348.3 117.5L344.6 119.8M347.3 111.5L343.1 110.5M350.8 106.5L348.6 102.9M356.9 105.5L357.8 101.3M361.9 109.1L365.5 106.8" stroke="#f2e71e" stroke-width="2.0" stroke-linecap="round" fill="none"/><circle cx="355.1" cy="113.3" r="6.3" fill="#f2e71e" stroke="#f5a623" stroke-width="0.9"/><path d="M340.7 127.6 C337.1 127.6 336.0 125.1 336.0 123.1 C336.0 120.6 338.1 118.6 340.8 118.8 C341.1 115.4 344.1 113.3 347.4 113.3 C350.5 113.3 352.7 115.2 353.0 118.1 C355.8 117.9 357.8 120.1 357.8 122.8 C357.8 125.5 355.8 127.6 353.2 127.6 C351.4 128.0 349.6 127.6 348.3 126.9 C346.5 128.0 342.9 128.0 340.7 127.6Z" fill="#d3d3d3" stroke="#2458b4" stroke-width="1.8" stroke-linejoin="round"/><path d="M353.0 118.1 C350.9 118.5 349.3 119.7 348.8 121.7" fill="none" stroke="#2458b4" stroke-width="1.8" stroke-linecap="round"/>
<path d="M387.5 100.7 C377.5 101.1 373.1 107.5 373.1 113.5 C373.1 119.5 377.5 125.9 387.5 126.3 C383.1 122.0 381.7 117.5 381.7 113.5 C381.7 109.5 383.1 105.0 387.5 100.7Z" fill="#fdfdfd" stroke="#000" stroke-width="1.4" stroke-linejoin="round"/><path d="M382.7 125.0 C379.4 125.0 378.4 122.8 378.4 121.0 C378.4 118.8 380.3 117.0 382.8 117.3 C383.1 114.2 385.8 112.3 388.9 112.3 C391.8 112.3 393.9 114.0 394.2 116.6 C396.8 116.5 398.7 118.4 398.7 120.8 C398.7 123.2 396.8 125.0 394.3 125.0 C392.7 125.4 391.0 125.0 389.8 124.5 C388.1 125.4 384.8 125.4 382.7 125.0Z" fill="#d3d3d3" stroke="#2d4d73" stroke-width="1.4" stroke-linejoin="round"/><path d="M394.2 116.6 C392.3 117.0 390.8 118.1 390.3 119.8" fill="none" stroke="#2d4d73" stroke-width="1.4" stroke-linecap="round"/><line x1="390.4" y1="127.8" x2="389.0" y2="133.6" stroke="#2d4d73" stroke-width="2.1"/><line x1="394.8" y1="127.8" x2="393.4" y2="133.6" stroke="#2d4d73" stroke-width="2.1"/>
<circle cx="408.9" cy="117.1" r="6.65" fill="#2d4d73"/><circle cx="419.3" cy="110.8" r="7.35" fill="#2d4d73"/><circle cx="430.5" cy="115.1" r="7.65" fill="#2d4d73"/><rect x="408.9" y="115.5" width="21.6" height="7.2" fill="#2d4d73"/><circle cx="408.9" cy="117.1" r="5.35" fill="#d3d3d3"/><circle cx="419.3" cy="110.8" r="6.05" fill="#d3d3d3"/><circle cx="430.5" cy="115.1" r="6.35" fill="#d3d3d3"/><rect x="408.9" y="113.0" width="21.6" height="8.4" fill="#d3d3d3"/><circle cx="416.5" cy="119.7" r="5.65" fill="#2d4d73"/><circle cx="423.2" cy="116.2" r="5.65" fill="#2d4d73"/><circle cx="430.4" cy="120.5" r="5.25" fill="#2d4d73"/><rect x="416.5" y="120.0" width="13.9" height="5.7" fill="#2d4d73"/><circle cx="416.5" cy="119.7" r="4.35" fill="#fbfbfb"/><circle cx="423.2" cy="116.2" r="4.35" fill="#fbfbfb"/><circle cx="430.4" cy="120.5" r="3.95" fill="#fbfbfb"/><rect x="416.5" y="117.5" width="13.9" height="6.8" fill="#fbfbfb"/><path d="M429.7 115.7 C427.9 116.0 426.5 117.4 426.1 119.2" fill="none" stroke="#2d4d73" stroke-width="1.2" stroke-linecap="round"/><line x1="414.5" y1="127.8" x2="413.1" y2="133.6" stroke="#2d4d73" stroke-width="2.1"/><line x1="419.0" y1="127.8" x2="417.6" y2="133.6" stroke="#2d4d73" stroke-width="2.1"/><line x1="423.5" y1="127.8" x2="422.1" y2="133.6" stroke="#2d4d73" stroke-width="2.1"/><line x1="428.5" y1="127.8" x2="427.1" y2="133.6" stroke="#2d4d73" stroke-width="2.1"/>
<circle cx="443.4" cy="117.1" r="6.65" fill="#2458b4"/><circle cx="453.8" cy="110.8" r="7.35" fill="#2458b4"/><circle cx="465.0" cy="115.1" r="7.65" fill="#2458b4"/><rect x="443.4" y="115.5" width="21.6" height="7.2" fill="#2458b4"/><circle cx="443.4" cy="117.1" r="5.35" fill="#d3d3d3"/><circle cx="453.8" cy="110.8" r="6.05" fill="#d3d3d3"/><circle cx="465.0" cy="115.1" r="6.35" fill="#d3d3d3"/><rect x="443.4" y="113.0" width="21.6" height="8.4" fill="#d3d3d3"/><circle cx="451.0" cy="119.7" r="5.65" fill="#2458b4"/><circle cx="457.7" cy="116.2" r="5.65" fill="#2458b4"/><circle cx="464.9" cy="120.5" r="5.25" fill="#2458b4"/><rect x="451.0" y="120.0" width="13.9" height="5.7" fill="#2458b4"/><circle cx="451.0" cy="119.7" r="4.35" fill="#fbfbfb"/><circle cx="457.7" cy="116.2" r="4.35" fill="#fbfbfb"/><circle cx="464.9" cy="120.5" r="3.95" fill="#fbfbfb"/><rect x="451.0" y="117.5" width="13.9" height="6.8" fill="#fbfbfb"/><path d="M464.2 115.7 C462.4 116.0 461.0 117.4 460.6 119.2" fill="none" stroke="#2458b4" stroke-width="1.2" stroke-linecap="round"/><line x1="449.0" y1="127.8" x2="447.6" y2="133.6" stroke="#4a78c8" stroke-width="2.1"/><line x1="453.5" y1="127.8" x2="452.1" y2="133.6" stroke="#4a78c8" stroke-width="2.1"/><line x1="458.0" y1="127.8" x2="456.6" y2="133.6" stroke="#4a78c8" stroke-width="2.1"/><line x1="463.0" y1="127.8" x2="461.6" y2="133.6" stroke="#4a78c8" stroke-width="2.1"/>
<circle cx="477.9" cy="117.1" r="6.65" fill="#2458b4"/><circle cx="488.3" cy="110.8" r="7.35" fill="#2458b4"/><circle cx="499.5" cy="115.1" r="7.65" fill="#2458b4"/><rect x="477.9" y="115.5" width="21.6" height="7.2" fill="#2458b4"/><circle cx="477.9" cy="117.1" r="5.35" fill="#d3d3d3"/><circle cx="488.3" cy="110.8" r="6.05" fill="#d3d3d3"/><circle cx="499.5" cy="115.1" r="6.35" fill="#d3d3d3"/><rect x="477.9" y="113.0" width="21.6" height="8.4" fill="#d3d3d3"/><circle cx="485.5" cy="119.7" r="5.65" fill="#2458b4"/><circle cx="492.2" cy="116.2" r="5.65" fill="#2458b4"/><circle cx="499.4" cy="120.5" r="5.25" fill="#2458b4"/><rect x="485.5" y="120.0" width="13.9" height="5.7" fill="#2458b4"/><circle cx="485.5" cy="119.7" r="4.35" fill="#fbfbfb"/><circle cx="492.2" cy="116.2" r="4.35" fill="#fbfbfb"/><circle cx="499.4" cy="120.5" r="3.95" fill="#fbfbfb"/><rect x="485.5" y="117.5" width="13.9" height="6.8" fill="#fbfbfb"/><path d="M498.7 115.7 C496.9 116.0 495.5 117.4 495.1 119.2" fill="none" stroke="#2458b4" stroke-width="1.2" stroke-linecap="round"/><line x1="483.5" y1="127.8" x2="482.1" y2="133.6" stroke="#4a78c8" stroke-width="2.1"/><line x1="488.0" y1="127.8" x2="486.6" y2="133.6" stroke="#4a78c8" stroke-width="2.1"/><line x1="492.5" y1="127.8" x2="491.1" y2="133.6" stroke="#4a78c8" stroke-width="2.1"/><line x1="497.5" y1="127.8" x2="496.1" y2="133.6" stroke="#4a78c8" stroke-width="2.1"/>
<circle cx="513.5" cy="117.1" r="6.65" fill="#2d4d73"/><circle cx="523.9" cy="110.8" r="7.35" fill="#2d4d73"/><circle cx="535.1" cy="115.1" r="7.65" fill="#2d4d73"/><rect x="513.5" y="115.5" width="21.6" height="7.2" fill="#2d4d73"/><circle cx="513.5" cy="117.1" r="5.35" fill="#d3d3d3"/><circle cx="523.9" cy="110.8" r="6.05" fill="#d3d3d3"/><circle cx="535.1" cy="115.1" r="6.35" fill="#d3d3d3"/><rect x="513.5" y="113.0" width="21.6" height="8.4" fill="#d3d3d3"/><circle cx="521.1" cy="119.7" r="5.65" fill="#2d4d73"/><circle cx="527.8" cy="116.2" r="5.65" fill="#2d4d73"/><circle cx="535.0" cy="120.5" r="5.25" fill="#2d4d73"/><rect x="521.1" y="120.0" width="13.9" height="5.7" fill="#2d4d73"/><circle cx="521.1" cy="119.7" r="4.35" fill="#fbfbfb"/><circle cx="527.8" cy="116.2" r="4.35" fill="#fbfbfb"/><circle cx="535.0" cy="120.5" r="3.95" fill="#fbfbfb"/><rect x="521.1" y="117.5" width="13.9" height="6.8" fill="#fbfbfb"/><path d="M534.3 115.7 C532.5 116.0 531.1 117.4 530.7 119.2" fill="none" stroke="#2d4d73" stroke-width="1.2" stroke-linecap="round"/><line x1="522.4" y1="127.8" x2="521.0" y2="133.6" stroke="#2d4d73" stroke-width="2.1"/><line x1="526.6" y1="127.8" x2="525.2" y2="133.6" stroke="#2d4d73" stroke-width="2.1"/>
<path d="M560.8 100.7 C550.8 101.1 546.4 107.5 546.4 113.5 C546.4 119.5 550.8 125.9 560.8 126.3 C556.4 122.0 555.0 117.5 555.0 113.5 C555.0 109.5 556.4 105.0 560.8 100.7Z" fill="#fdfdfd" stroke="#000" stroke-width="1.4" stroke-linejoin="round"/><path d="M556.6 125.6 C552.7 125.6 551.5 122.9 551.5 120.7 C551.5 118.0 553.7 115.9 556.7 116.1 C557.0 112.4 560.3 110.1 563.9 110.1 C567.3 110.1 569.7 112.1 570.0 115.4 C573.1 115.2 575.2 117.5 575.2 120.4 C575.2 123.4 573.1 125.6 570.2 125.6 C568.2 126.1 566.3 125.6 564.8 124.9 C562.9 126.1 559.0 126.1 556.6 125.6Z" fill="#d3d3d3" stroke="#2d4d73" stroke-width="1.4" stroke-linejoin="round"/><path d="M570.0 115.4 C567.7 115.8 566.0 117.1 565.4 119.3" fill="none" stroke="#2d4d73" stroke-width="1.4" stroke-linecap="round"/><line x1="555.4" y1="128.3" x2="554.0" y2="133.9" stroke="#2d4d73" stroke-width="2.1"/><line x1="559.6" y1="128.3" x2="558.2" y2="133.9" stroke="#2d4d73" stroke-width="2.1"/><line x1="563.8" y1="128.3" x2="562.4" y2="133.9" stroke="#2d4d73" stroke-width="2.1"/><line x1="568.0" y1="128.3" x2="566.6" y2="133.9" stroke="#2d4d73" stroke-width="2.1"/>
<path d="M604.7 115.1L608.8 116.1M601.1 120.1L603.4 123.7M595.1 121.1L594.1 125.3M590.1 117.5L586.4 119.8M589.1 111.5L584.9 110.5M592.6 106.5L590.3 102.9M598.7 105.5L599.6 101.3M603.6 109.1L607.3 106.8" stroke="#f4cf3a" stroke-width="3.0" stroke-linecap="round" fill="none"/><path d="M604.7 115.1L608.8 116.1M601.1 120.1L603.4 123.7M595.1 121.1L594.1 125.3M590.1 117.5L586.4 119.8M589.1 111.5L584.9 110.5M592.6 106.5L590.3 102.9M598.7 105.5L599.6 101.3M603.6 109.1L607.3 106.8" stroke="#f2e71e" stroke-width="2.0" stroke-linecap="round" fill="none"/><circle cx="596.9" cy="113.3" r="6.3" fill="#f2e71e" stroke="#f5a623" stroke-width="0.9"/><path d="M582.5 127.6 C578.9 127.6 577.8 125.1 577.8 123.1 C577.8 120.6 579.9 118.6 582.6 118.8 C582.9 115.4 585.9 113.3 589.2 113.3 C592.3 113.3 594.5 115.2 594.8 118.1 C597.6 117.9 599.6 120.1 599.6 122.8 C599.6 125.5 597.6 127.6 595.0 127.6 C593.2 128.0 591.4 127.6 590.0 126.9 C588.3 128.0 584.7 128.0 582.5 127.6Z" fill="#d3d3d3" stroke="#2458b4" stroke-width="1.8" stroke-linejoin="round"/><path d="M594.8 118.1 C592.7 118.5 591.1 119.7 590.6 121.7" fill="none" stroke="#2458b4" stroke-width="1.8" stroke-linecap="round"/><line x1="586.9" y1="129.7" x2="585.5" y2="133.9" stroke="#4a78c8" stroke-width="2.1"/><line x1="591.3" y1="129.7" x2="589.9" y2="133.9" stroke="#4a78c8" stroke-width="2.1"/>
<path d="M639.2 115.1L643.4 116.1M635.6 120.1L637.9 123.7M629.6 121.1L628.6 125.3M624.6 117.5L621.0 119.8M623.6 111.5L619.4 110.5M627.2 106.5L624.9 102.9M633.2 105.5L634.2 101.3M638.2 109.1L641.8 106.8" stroke="#f4cf3a" stroke-width="3.0" stroke-linecap="round" fill="none"/><path d="M639.2 115.1L643.4 116.1M635.6 120.1L637.9 123.7M629.6 121.1L628.6 125.3M624.6 117.5L621.0 119.8M623.6 111.5L619.4 110.5M627.2 106.5L624.9 102.9M633.2 105.5L634.2 101.3M638.2 109.1L641.8 106.8" stroke="#f2e71e" stroke-width="2.0" stroke-linecap="round" fill="none"/><circle cx="631.4" cy="113.3" r="6.3" fill="#f2e71e" stroke="#f5a623" stroke-width="0.9"/><path d="M617.0 127.6 C613.4 127.6 612.4 125.1 612.4 123.1 C612.4 120.6 614.4 118.6 617.1 118.8 C617.5 115.4 620.4 113.3 623.7 113.3 C626.8 113.3 629.0 115.2 629.3 118.1 C632.2 117.9 634.1 120.1 634.1 122.8 C634.1 125.5 632.2 127.6 629.5 127.6 C627.7 128.0 625.9 127.6 624.6 126.9 C622.8 128.0 619.2 128.0 617.0 127.6Z" fill="#d3d3d3" stroke="#2458b4" stroke-width="1.8" stroke-linejoin="round"/><path d="M629.3 118.1 C627.3 118.5 625.7 119.7 625.1 121.7" fill="none" stroke="#2458b4" stroke-width="1.8" stroke-linecap="round"/>
<path d="M662.4 100.7 C652.4 101.1 648.0 107.5 648.0 113.5 C648.0 119.5 652.4 125.9 662.4 126.3 C658.0 122.0 656.6 117.5 656.6 113.5 C656.6 109.5 658.0 105.0 662.4 100.7Z" fill="#fdfdfd" stroke="#000" stroke-width="1.4" stroke-linejoin="round"/><path d="M658.1 126.3 C654.1 126.3 652.9 123.5 652.9 121.3 C652.9 118.5 655.2 116.3 658.2 116.6 C658.6 112.8 661.9 110.4 665.6 110.4 C669.1 110.4 671.6 112.5 671.9 115.8 C675.1 115.6 677.3 118.0 677.3 121.0 C677.3 124.0 675.1 126.3 672.1 126.3 C670.1 126.8 668.1 126.3 666.6 125.6 C664.6 126.8 660.6 126.8 658.1 126.3Z" fill="#d3d3d3" stroke="#2d4d73" stroke-width="1.4" stroke-linejoin="round"/><path d="M671.9 115.8 C669.6 116.2 667.8 117.6 667.2 119.8" fill="none" stroke="#2d4d73" stroke-width="1.4" stroke-linecap="round"/>
<path d="M697.0 100.7 C687.0 101.1 682.6 107.5 682.6 113.5 C682.6 119.5 687.0 125.9 697.0 126.3 C692.6 122.0 691.2 117.5 691.2 113.5 C691.2 109.5 692.6 105.0 697.0 100.7Z" fill="#fdfdfd" stroke="#000" stroke-width="1.4" stroke-linejoin="round"/><path d="M692.7 126.3 C688.7 126.3 687.5 123.5 687.5 121.3 C687.5 118.5 689.8 116.3 692.8 116.6 C693.2 112.8 696.5 110.4 700.2 110.4 C703.7 110.4 706.2 112.5 706.5 115.8 C709.7 115.6 711.9 118.0 711.9 121.0 C711.9 124.0 709.7 126.3 706.7 126.3 C704.7 126.8 702.7 126.3 701.2 125.6 C699.2 126.8 695.2 126.8 692.7 126.3Z" fill="#d3d3d3" stroke="#2d4d73" stroke-width="1.4" stroke-linejoin="round"/><path d="M706.5 115.8 C704.2 116.2 702.4 117.6 701.8 119.8" fill="none" stroke="#2d4d73" stroke-width="1.4" stroke-linecap="round"/>
<path d="M742.8 115.1L747.0 116.1M739.3 120.1L741.5 123.7M733.2 121.1L732.3 125.3M728.2 117.5L724.6 119.8M727.2 111.5L723.0 110.5M730.8 106.5L728.5 102.9M736.8 105.5L737.8 101.3M741.8 109.1L745.5 106.8" stroke="#f4cf3a" stroke-width="3.0" stroke-linecap="round" fill="none"/><path d="M742.8 115.1L747.0 116.1M739.3 120.1L741.5 123.7M733.2 121.1L732.3 125.3M728.2 117.5L724.6 119.8M727.2 111.5L723.0 110.5M730.8 106.5L728.5 102.9M736.8 105.5L737.8 101.3M741.8 109.1L745.5 106.8" stroke="#f2e71e" stroke-width="2.0" stroke-linecap="round" fill="none"/><circle cx="735.0" cy="113.3" r="6.3" fill="#f2e71e" stroke="#f5a623" stroke-width="0.9"/><path d="M720.6 127.6 C717.1 127.6 716.0 125.1 716.0 123.1 C716.0 120.6 718.0 118.6 720.7 118.8 C721.1 115.4 724.0 113.3 727.3 113.3 C730.4 113.3 732.7 115.2 732.9 118.1 C735.8 117.9 737.8 120.1 737.8 122.8 C737.8 125.5 735.8 127.6 733.1 127.6 C731.3 128.0 729.6 127.6 728.2 126.9 C726.4 128.0 722.9 128.0 720.6 127.6Z" fill="#d3d3d3" stroke="#2458b4" stroke-width="1.8" stroke-linejoin="round"/><path d="M732.9 118.1 C730.9 118.5 729.3 119.7 728.7 121.7" fill="none" stroke="#2458b4" stroke-width="1.8" stroke-linecap="round"/><line x1="725.0" y1="129.7" x2="723.6" y2="133.9" stroke="#4a78c8" stroke-width="2.1"/><line x1="729.4" y1="129.7" x2="728.0" y2="133.9" stroke="#4a78c8" stroke-width="2.1"/>
<path d="M777.4 115.1L781.6 116.1M773.8 120.1L776.1 123.7M767.8 121.1L766.8 125.3M762.8 117.5L759.1 119.8M761.8 111.5L757.6 110.5M765.3 106.5L763.0 102.9M771.4 105.5L772.3 101.3M776.4 109.1L780.0 106.8" stroke="#f4cf3a" stroke-width="3.0" stroke-linecap="round" fill="none"/><path d="M777.4 115.1L781.6 116.1M773.8 120.1L776.1 123.7M767.8 121.1L766.8 125.3M762.8 117.5L759.1 119.8M761.8 111.5L757.6 110.5M765.3 106.5L763.0 102.9M771.4 105.5L772.3 101.3M776.4 109.1L780.0 106.8" stroke="#f2e71e" stroke-width="2.0" stroke-linecap="round" fill="none"/><circle cx="769.6" cy="113.3" r="6.3" fill="#f2e71e" stroke="#f5a623" stroke-width="0.9"/><path d="M755.2 127.6 C751.6 127.6 750.5 125.1 750.5 123.1 C750.5 120.6 752.6 118.6 755.3 118.8 C755.6 115.4 758.6 113.3 761.9 113.3 C765.0 113.3 767.2 115.2 767.5 118.1 C770.3 117.9 772.3 120.1 772.3 122.8 C772.3 125.5 770.3 127.6 767.7 127.6 C765.9 128.0 764.1 127.6 762.8 126.9 C761.0 128.0 757.4 128.0 755.2 127.6Z" fill="#d3d3d3" stroke="#2458b4" stroke-width="1.8" stroke-linejoin="round"/><path d="M767.5 118.1 C765.4 118.5 763.8 119.7 763.3 121.7" fill="none" stroke="#2458b4" stroke-width="1.8" stroke-linecap="round"/><line x1="759.6" y1="129.7" x2="758.2" y2="133.9" stroke="#4a78c8" stroke-width="2.1"/><line x1="764.0" y1="129.7" x2="762.6" y2="133.9" stroke="#4a78c8" stroke-width="2.1"/>
<path d="M802.0 100.7 C792.0 101.1 787.6 107.5 787.6 113.5 C787.6 119.5 792.0 125.9 802.0 126.3 C797.6 122.0 796.2 117.5 796.2 113.5 C796.2 109.5 797.6 105.0 802.0 100.7Z" fill="#fdfdfd" stroke="#000" stroke-width="1.4" stroke-linejoin="round"/><path d="M797.2 125.0 C793.9 125.0 792.9 122.8 792.9 121.0 C792.9 118.8 794.8 117.0 797.3 117.3 C797.6 114.2 800.3 112.3 803.4 112.3 C806.3 112.3 808.4 114.0 808.7 116.6 C811.3 116.5 813.2 118.4 813.2 120.8 C813.2 123.2 811.3 125.0 808.8 125.0 C807.2 125.4 805.5 125.0 804.3 124.5 C802.6 125.4 799.3 125.4 797.2 125.0Z" fill="#d3d3d3" stroke="#2d4d73" stroke-width="1.4" stroke-linejoin="round"/><path d="M808.7 116.6 C806.8 117.0 805.3 118.1 804.8 119.8" fill="none" stroke="#2d4d73" stroke-width="1.4" stroke-linecap="round"/><line x1="804.9" y1="127.8" x2="803.5" y2="133.6" stroke="#2d4d73" stroke-width="2.1"/><line x1="809.3" y1="127.8" x2="807.9" y2="133.6" stroke="#2d4d73" stroke-width="2.1"/>
<path d="M836.5 100.7 C826.5 101.1 822.1 107.5 822.1 113.5 C822.1 119.5 826.5 125.9 836.5 126.3 C832.1 122.0 830.7 117.5 830.7 113.5 C830.7 109.5 832.1 105.0 836.5 100.7Z" fill="#fdfdfd" stroke="#000" stroke-width="1.4" stroke-linejoin="round"/><path d="M831.7 125.0 C828.4 125.0 827.4 122.8 827.4 121.0 C827.4 118.8 829.3 117.0 831.8 117.3 C832.1 114.2 834.9 112.3 838.0 112.3 C840.9 112.3 843.0 114.0 843.2 116.6 C845.9 116.5 847.7 118.4 847.7 120.8 C847.7 123.2 845.9 125.0 843.4 125.0 C841.7 125.4 840.0 125.0 838.8 124.5 C837.1 125.4 833.8 125.4 831.7 125.0Z" fill="#d3d3d3" stroke="#2d4d73" stroke-width="1.4" stroke-linejoin="round"/><path d="M843.2 116.6 C841.3 117.0 839.8 118.1 839.3 119.8" fill="none" stroke="#2d4d73" stroke-width="1.4" stroke-linecap="round"/><line x1="839.4" y1="127.8" x2="838.0" y2="133.6" stroke="#2d4d73" stroke-width="2.1"/><line x1="843.8" y1="127.8" x2="842.4" y2="133.6" stroke="#2d4d73" stroke-width="2.1"/>
<path d="M881.0 115.1L885.2 116.1M877.4 120.1L879.7 123.7M871.4 121.1L870.4 125.3M866.4 117.5L862.8 119.8M865.4 111.5L861.2 110.5M869.0 106.5L866.7 102.9M875.0 105.5L876.0 101.3M880.0 109.1L883.6 106.8" stroke="#f4cf3a" stroke-width="3.0" stroke-linecap="round" fill="none"/><path d="M881.0 115.1L885.2 116.1M877.4 120.1L879.7 123.7M871.4 121.1L870.4 125.3M866.4 117.5L862.8 119.8M865.4 111.5L861.2 110.5M869.0 106.5L866.7 102.9M875.0 105.5L876.0 101.3M880.0 109.1L883.6 106.8" stroke="#f2e71e" stroke-width="2.0" stroke-linecap="round" fill="none"/><circle cx="873.2" cy="113.3" r="6.3" fill="#f2e71e" stroke="#f5a623" stroke-width="0.9"/><path d="M858.8 127.6 C855.2 127.6 854.2 125.1 854.2 123.1 C854.2 120.6 856.2 118.6 858.9 118.8 C859.2 115.4 862.2 113.3 865.5 113.3 C868.6 113.3 870.8 115.2 871.1 118.1 C874.0 117.9 875.9 120.1 875.9 122.8 C875.9 125.5 874.0 127.6 871.3 127.6 C869.5 128.0 867.7 127.6 866.4 126.9 C864.6 128.0 861.0 128.0 858.8 127.6Z" fill="#d3d3d3" stroke="#2458b4" stroke-width="1.8" stroke-linejoin="round"/><path d="M871.1 118.1 C869.1 118.5 867.4 119.7 866.9 121.7" fill="none" stroke="#2458b4" stroke-width="1.8" stroke-linecap="round"/><line x1="863.2" y1="129.7" x2="861.8" y2="133.9" stroke="#4a78c8" stroke-width="2.1"/><line x1="867.6" y1="129.7" x2="866.2" y2="133.9" stroke="#4a78c8" stroke-width="2.1"/>
<path d="M909.0 114.2L913.2 115.2M905.5 119.2L907.7 122.8M899.4 120.2L898.5 124.4M894.4 116.6L890.8 118.9M893.4 110.6L889.2 109.6M897.0 105.6L894.7 102.0M903.0 104.6L904.0 100.4M908.0 108.2L911.7 105.9" stroke="#f4cf3a" stroke-width="3.0" stroke-linecap="round" fill="none"/><path d="M909.0 114.2L913.2 115.2M905.5 119.2L907.7 122.8M899.4 120.2L898.5 124.4M894.4 116.6L890.8 118.9M893.4 110.6L889.2 109.6M897.0 105.6L894.7 102.0M903.0 104.6L904.0 100.4M908.0 108.2L911.7 105.9" stroke="#f2e71e" stroke-width="2.0" stroke-linecap="round" fill="none"/><circle cx="901.2" cy="112.4" r="6.3" fill="#f2e71e" stroke="#f5a623" stroke-width="0.9"/><path d="M907.2 123.0 C904.4 123.0 903.5 121.2 903.5 119.8 C903.5 118.0 905.1 116.5 907.2 116.7 C907.5 114.2 909.8 112.7 912.4 112.7 C914.8 112.7 916.6 114.0 916.8 116.2 C919.0 116.1 920.5 117.6 920.5 119.6 C920.5 121.5 919.0 123.0 916.9 123.0 C915.5 123.4 914.1 123.0 913.1 122.6 C911.7 123.4 908.9 123.4 907.2 123.0Z" fill="#d3d3d3" stroke="#2458b4" stroke-width="1.5" stroke-linejoin="round"/><path d="M916.8 116.2 C915.2 116.4 913.9 117.4 913.5 118.8" fill="none" stroke="#2458b4" stroke-width="1.5" stroke-linecap="round"/><polygon points="911.7,117.9 908.1,124.9 910.7,124.9 907.5,132.5 915.1,123.1 912.3,123.1 915.5,117.9" fill="#b02fb4"/>
<path d="M942.2 100.7 C932.2 101.1 927.8 107.5 927.8 113.5 C927.8 119.5 932.2 125.9 942.2 126.3 C937.8 122.0 936.4 117.5 936.4 113.5 C936.4 109.5 937.8 105.0 942.2 100.7Z" fill="#fdfdfd" stroke="#000" stroke-width="1.4" stroke-linejoin="round"/><path d="M937.6 124.4 C934.4 124.4 933.4 122.2 933.4 120.5 C933.4 118.3 935.3 116.6 937.7 116.8 C938.0 113.9 940.7 112.0 943.7 112.0 C946.5 112.0 948.5 113.6 948.8 116.2 C951.4 116.0 953.1 117.9 953.1 120.2 C953.1 122.6 951.4 124.4 948.9 124.4 C947.3 124.7 945.7 124.4 944.5 123.8 C942.9 124.7 939.6 124.7 937.6 124.4Z" fill="#d3d3d3" stroke="#2d4d73" stroke-width="1.4" stroke-linejoin="round"/><path d="M948.8 116.2 C946.9 116.5 945.5 117.6 945.0 119.3" fill="none" stroke="#2d4d73" stroke-width="1.4" stroke-linecap="round"/><polygon points="943.0,118.5 939.4,125.5 942.0,125.5 938.8,133.1 946.4,123.7 943.6,123.7 946.8,118.5" fill="#b02fb4"/>
<path d="M973.3 100.7 C963.3 101.1 958.9 107.5 958.9 113.5 C958.9 119.5 963.3 125.9 973.3 126.3 C968.9 122.0 967.5 117.5 967.5 113.5 C967.5 109.5 968.9 105.0 973.3 100.7Z" fill="#fdfdfd" stroke="#000" stroke-width="1.4" stroke-linejoin="round"/><path d="M969.0 126.3 C965.0 126.3 963.8 123.5 963.8 121.3 C963.8 118.5 966.1 116.3 969.1 116.6 C969.5 112.8 972.8 110.4 976.5 110.4 C980.0 110.4 982.5 112.5 982.8 115.8 C986.0 115.6 988.2 118.0 988.2 121.0 C988.2 124.0 986.0 126.3 983.0 126.3 C981.0 126.8 979.0 126.3 977.5 125.6 C975.5 126.8 971.5 126.8 969.0 126.3Z" fill="#d3d3d3" stroke="#2d4d73" stroke-width="1.4" stroke-linejoin="round"/><path d="M982.8 115.8 C980.5 116.2 978.7 117.6 978.1 119.8" fill="none" stroke="#2d4d73" stroke-width="1.4" stroke-linecap="round"/>
<path d="M1019.2 115.1L1023.3 116.1M1015.6 120.1L1017.9 123.7M1009.6 121.1L1008.6 125.3M1004.6 117.5L1000.9 119.8M1003.6 111.5L999.4 110.5M1007.1 106.5L1004.8 102.9M1013.2 105.5L1014.1 101.3M1018.1 109.1L1021.8 106.8" stroke="#f4cf3a" stroke-width="3.0" stroke-linecap="round" fill="none"/><path d="M1019.2 115.1L1023.3 116.1M1015.6 120.1L1017.9 123.7M1009.6 121.1L1008.6 125.3M1004.6 117.5L1000.9 119.8M1003.6 111.5L999.4 110.5M1007.1 106.5L1004.8 102.9M1013.2 105.5L1014.1 101.3M1018.1 109.1L1021.8 106.8" stroke="#f2e71e" stroke-width="2.0" stroke-linecap="round" fill="none"/><circle cx="1011.4" cy="113.3" r="6.3" fill="#f2e71e" stroke="#f5a623" stroke-width="0.9"/><path d="M997.0 127.6 C993.4 127.6 992.3 125.1 992.3 123.1 C992.3 120.6 994.4 118.6 997.1 118.8 C997.4 115.4 1000.4 113.3 1003.7 113.3 C1006.8 113.3 1009.0 115.2 1009.3 118.1 C1012.1 117.9 1014.1 120.1 1014.1 122.8 C1014.1 125.5 1012.1 127.6 1009.4 127.6 C1007.7 128.0 1005.9 127.6 1004.5 126.9 C1002.8 128.0 999.2 128.0 997.0 127.6Z" fill="#d3d3d3" stroke="#2458b4" stroke-width="1.8" stroke-linejoin="round"/><path d="M1009.3 118.1 C1007.2 118.5 1005.6 119.7 1005.1 121.7" fill="none" stroke="#2458b4" stroke-width="1.8" stroke-linecap="round"/><line x1="1001.4" y1="129.7" x2="1000.0" y2="133.9" stroke="#4a78c8" stroke-width="2.1"/><line x1="1005.8" y1="129.7" x2="1004.4" y2="133.9" stroke="#4a78c8" stroke-width="2.1"/>
<path d="M1044.0 114.2L1048.2 115.2M1040.4 119.2L1042.7 122.8M1034.4 120.2L1033.4 124.4M1029.4 116.6L1025.8 118.9M1028.4 110.6L1024.2 109.6M1032.0 105.6L1029.7 102.0M1038.0 104.6L1039.0 100.4M1043.0 108.2L1046.6 105.9" stroke="#f4cf3a" stroke-width="3.0" stroke-linecap="round" fill="none"/><path d="M1044.0 114.2L1048.2 115.2M1040.4 119.2L1042.7 122.8M1034.4 120.2L1033.4 124.4M1029.4 116.6L1025.8 118.9M1028.4 110.6L1024.2 109.6M1032.0 105.6L1029.7 102.0M1038.0 104.6L1039.0 100.4M1043.0 108.2L1046.6 105.9" stroke="#f2e71e" stroke-width="2.0" stroke-linecap="round" fill="none"/><circle cx="1036.2" cy="112.4" r="6.3" fill="#f2e71e" stroke="#f5a623" stroke-width="0.9"/><path d="M1043.2 125.0 C1039.6 125.0 1038.6 122.5 1038.6 120.5 C1038.6 118.0 1040.6 116.0 1043.3 116.2 C1043.6 112.8 1046.6 110.7 1049.8 110.7 C1052.9 110.7 1055.2 112.5 1055.4 115.5 C1058.3 115.3 1060.2 117.5 1060.2 120.2 C1060.2 122.9 1058.3 125.0 1055.6 125.0 C1053.8 125.4 1052.1 125.0 1050.7 124.3 C1049.0 125.4 1045.4 125.4 1043.2 125.0Z" fill="#fbfbfb" stroke="#2458b4" stroke-width="1.5" stroke-linejoin="round"/><path d="M1055.4 115.5 C1053.4 115.9 1051.8 117.1 1051.3 119.1" fill="none" stroke="#2458b4" stroke-width="1.5" stroke-linecap="round"/><line x1="1047.6" y1="127.8" x2="1046.2" y2="133.6" stroke="#4a78c8" stroke-width="2.1"/><line x1="1051.8" y1="127.8" x2="1050.4" y2="133.6" stroke="#4a78c8" stroke-width="2.1"/>
<path d="M1082.7 100.7 C1072.7 101.1 1068.3 107.5 1068.3 113.5 C1068.3 119.5 1072.7 125.9 1082.7 126.3 C1078.3 122.0 1076.9 117.5 1076.9 113.5 C1076.9 109.5 1078.3 105.0 1082.7 100.7Z" fill="#fdfdfd" stroke="#000" stroke-width="1.4" stroke-linejoin="round"/><line x1="1059.8" y1="115.6" x2="1095.2" y2="115.6" stroke="#2d4d73" stroke-width="1.3"/><line x1="1059.8" y1="119.4" x2="1095.2" y2="119.4" stroke="#2d4d73" stroke-width="1.3"/><line x1="1062.6" y1="123.6" x2="1094.3" y2="123.6" stroke="#2d4d73" stroke-width="2.6"/>
</g>
<path id="barbs" d="M115.7 147.4L139.2 158.6M134.8 156.5L134.0 161.9M131.8 151.2L157.6 154.8M152.8 154.1L153.7 159.5M149.0 152.3L175.0 153.7M170.1 153.4L171.5 158.7M173.7 141.3L184.9 164.7M182.8 160.3L178.8 164.0M206.9 145.1L186.2 160.9M190.1 157.9L185.6 154.8M214.4 140.0L213.2 166.0M213.4 161.1L208.1 162.5M229.0 140.2L233.1 165.8M232.4 161.0L227.5 163.4M240.2 142.9L256.5 163.1M256.5 163.1L250.4 172.2M256.9 143.4L274.4 162.6M274.4 162.6L268.9 172.0M274.1 143.4L291.6 162.6M291.6 162.6L286.1 172.0M294.7 141.2L305.6 164.8M305.6 164.8L297.5 172.1M315.0 140.2L319.8 165.8M319.8 165.8L310.2 170.9M340.4 141.3L329.0 164.7M329.0 164.7L318.2 163.1M356.3 140.7L347.7 165.3M347.7 165.3L336.8 164.9M366.9 140.2L371.6 165.8M371.6 165.8L361.9 170.8M381.6 141.0L391.4 165.0M391.4 165.0L383.0 172.0M401.9 140.1L405.7 165.9M405.7 165.9L395.8 170.6M418.8 140.2L423.3 165.8M423.3 165.8L413.6 170.8M422.7 162.6L417.9 165.1M435.2 140.4L441.5 165.6M441.5 165.6L432.2 171.3M440.7 162.5L436.0 165.3M453.0 140.3L458.2 165.7M458.2 165.7L448.6 171.0M457.5 162.6L452.7 165.2M471.0 140.1L474.7 165.9M474.7 165.9L464.9 170.6M474.3 162.6L469.4 165.0M488.3 140.1L492.0 165.9M492.0 165.9L482.2 170.6M491.5 162.6L486.6 165.0M501.8 141.2L513.0 164.8M513.0 164.8L504.9 172.1M517.5 142.2L531.9 163.8M531.9 163.8L525.0 172.3M532.3 144.3L551.6 161.7M551.6 161.7L547.1 171.6M551.7 142.4L566.7 163.6M566.7 163.6L560.1 172.3M568.0 143.2L585.0 162.8M585.0 162.8L579.2 172.1M589.9 140.6L597.6 165.4M597.6 165.4L588.7 171.6M611.9 140.0L610.1 166.0M610.1 166.0L599.5 168.5M630.0 140.1L626.6 165.9M627.2 161.1L621.9 162.0M643.5 140.2L647.6 165.8M646.8 161.0L642.0 163.4M658.8 140.7L666.9 165.3M665.4 160.7L661.0 163.9M674.7 141.2L685.6 164.8M683.5 160.4L679.5 164.0M691.8 141.3L703.0 164.7M700.9 160.3L696.9 164.0M708.2 141.7L721.1 164.3M718.7 160.1L714.9 164.0M729.9 140.2L734.0 165.8M733.2 161.0L728.3 163.4M756.3 142.1L742.1 163.9M744.8 159.8L739.5 158.3M773.2 141.9L759.8 164.1M762.3 160.0L757.0 158.7M784.5 140.0L783.0 166.0M783.3 161.1L778.0 162.4M796.4 140.8L805.6 165.2M803.9 160.6L799.6 164.0M814.7 140.5L821.9 165.5M821.9 165.5L812.8 171.5M830.4 141.1L840.7 164.9M840.7 164.9L832.4 172.0M847.7 141.0L857.9 165.0M857.9 165.0L849.6 172.0M865.7 140.8L874.5 165.2M874.5 165.2L865.8 171.8M884.0 140.4L890.7 165.6M890.7 165.6L881.6 171.4M900.5 140.7L908.8 165.3M908.8 165.3L900.0 171.7M916.6 141.1L927.2 164.9M927.2 164.9L919.1 172.1M935.8 140.4L942.6 165.6M942.6 165.6L933.4 171.4M956.3 140.0L956.6 166.0M956.6 166.0L946.3 169.4M969.8 140.6L977.7 165.4M977.7 165.4L968.7 171.6M983.9 142.1L998.1 163.9M998.1 163.9L991.1 172.3M1001.3 142.0L1015.2 164.0M1015.2 164.0L1008.1 172.3M1037.9 148.9L1013.2 157.1M1013.2 157.1L1006.8 148.3M1052.0 162.2L1033.6 143.8M1037.1 147.3L1039.6 142.4M1072.6 156.4L1047.5 149.6M1052.2 150.9L1052.0 145.4M1064.4 151.9L1090.3 154.1M1085.4 153.7L1086.6 159.0M1081.8 150.9L1107.4 155.1M1107.4 155.1L1109.0 165.8" fill="none" stroke="#000" stroke-width="1.6" stroke-linecap="butt" stroke-linejoin="miter"/>
<line x1="219.0" y1="97.4" x2="219.0" y2="359.2" stroke="#000" stroke-width="1.7" stroke-dasharray="6.4 2.7" stroke-dashoffset="2.9"/>
<rect x="127.45" y="97.4" width="966.8" height="261.8" fill="none" stroke="#000" stroke-width="1.2"/>
<line x1="144.7" y1="359.2" x2="144.7" y2="354.2" stroke="#000" stroke-width="0.9"/>
<line x1="162.0" y1="359.2" x2="162.0" y2="349.2" stroke="#000" stroke-width="0.9"/>
<line x1="179.3" y1="359.2" x2="179.3" y2="354.2" stroke="#000" stroke-width="0.9"/>
<line x1="196.5" y1="359.2" x2="196.5" y2="349.2" stroke="#000" stroke-width="0.9"/>
<line x1="213.8" y1="359.2" x2="213.8" y2="354.2" stroke="#000" stroke-width="0.9"/>
<line x1="231.1" y1="359.2" x2="231.1" y2="349.2" stroke="#000" stroke-width="0.9"/>
<line x1="248.3" y1="359.2" x2="248.3" y2="354.2" stroke="#000" stroke-width="0.9"/>
<line x1="282.9" y1="359.2" x2="282.9" y2="354.2" stroke="#000" stroke-width="0.9"/>
<line x1="300.2" y1="359.2" x2="300.2" y2="349.2" stroke="#000" stroke-width="0.9"/>
<line x1="317.4" y1="359.2" x2="317.4" y2="354.2" stroke="#000" stroke-width="0.9"/>
<line x1="334.7" y1="359.2" x2="334.7" y2="349.2" stroke="#000" stroke-width="0.9"/>
<line x1="352.0" y1="359.2" x2="352.0" y2="354.2" stroke="#000" stroke-width="0.9"/>
<line x1="369.2" y1="359.2" x2="369.2" y2="349.2" stroke="#000" stroke-width="0.9"/>
<line x1="386.5" y1="359.2" x2="386.5" y2="354.2" stroke="#000" stroke-width="0.9"/>
<line x1="421.1" y1="359.2" x2="421.1" y2="354.2" stroke="#000" stroke-width="0.9"/>
<line x1="438.3" y1="359.2" x2="438.3" y2="349.2" stroke="#000" stroke-width="0.9"/>
<line x1="455.6" y1="359.2" x2="455.6" y2="354.2" stroke="#000" stroke-width="0.9"/>
<line x1="472.9" y1="359.2" x2="472.9" y2="349.2" stroke="#000" stroke-width="0.9"/>
<line x1="490.1" y1="359.2" x2="490.1" y2="354.2" stroke="#000" stroke-width="0.9"/>
<line x1="507.4" y1="359.2" x2="507.4" y2="349.2" stroke="#000" stroke-width="0.9"/>
<line x1="524.7" y1="359.2" x2="524.7" y2="354.2" stroke="#000" stroke-width="0.9"/>
<line x1="559.2" y1="359.2" x2="559.2" y2="354.2" stroke="#000" stroke-width="0.9"/>
<line x1="576.5" y1="359.2" x2="576.5" y2="349.2" stroke="#000" stroke-width="0.9"/>
<line x1="593.8" y1="359.2" x2="593.8" y2="354.2" stroke="#000" stroke-width="0.9"/>
<line x1="611.0" y1="359.2" x2="611.0" y2="349.2" stroke="#000" stroke-width="0.9"/>
<line x1="628.3" y1="359.2" x2="628.3" y2="354.2" stroke="#000" stroke-width="0.9"/>
<line x1="645.6" y1="359.2" x2="645.6" y2="349.2" stroke="#000" stroke-width="0.9"/>
<line x1="662.8" y1="359.2" x2="662.8" y2="354.2" stroke="#000" stroke-width="0.9"/>
<line x1="697.4" y1="359.2" x2="697.4" y2="354.2" stroke="#000" stroke-width="0.9"/>
<line x1="714.7" y1="359.2" x2="714.7" y2="349.2" stroke="#000" stroke-width="0.9"/>
<line x1="731.9" y1="359.2" x2="731.9" y2="354.2" stroke="#000" stroke-width="0.9"/>
<line x1="749.2" y1="359.2" x2="749.2" y2="349.2" stroke="#000" stroke-width="0.9"/>
<line x1="766.5" y1="359.2" x2="766.5" y2="354.2" stroke="#000" stroke-width="0.9"/>
<line x1="783.7" y1="359.2" x2="783.7" y2="349.2" stroke="#000" stroke-width="0.9"/>
<line x1="801.0" y1="359.2" x2="801.0" y2="354.2" stroke="#000" stroke-width="0.9"/>
<line x1="835.5" y1="359.2" x2="835.5" y2="354.2" stroke="#000" stroke-width="0.9"/>
<line x1="852.8" y1="359.2" x2="852.8" y2="349.2" stroke="#000" stroke-width="0.9"/>
<line x1="870.1" y1="359.2" x2="870.1" y2="354.2" stroke="#000" stroke-width="0.9"/>
<line x1="887.4" y1="359.2" x2="887.4" y2="349.2" stroke="#000" stroke-width="0.9"/>
<line x1="904.6" y1="359.2" x2="904.6" y2="354.2" stroke="#000" stroke-width="0.9"/>
<line x1="921.9" y1="359.2" x2="921.9" y2="349.2" stroke="#000" stroke-width="0.9"/>
<line x1="939.2" y1="359.2" x2="939.2" y2="354.2" stroke="#000" stroke-width="0.9"/>
<line x1="973.7" y1="359.2" x2="973.7" y2="354.2" stroke="#000" stroke-width="0.9"/>
<line x1="991.0" y1="359.2" x2="991.0" y2="349.2" stroke="#000" stroke-width="0.9"/>
<line x1="1008.3" y1="359.2" x2="1008.3" y2="354.2" stroke="#000" stroke-width="0.9"/>
<line x1="1025.5" y1="359.2" x2="1025.5" y2="349.2" stroke="#000" stroke-width="0.9"/>
<line x1="1042.8" y1="359.2" x2="1042.8" y2="354.2" stroke="#000" stroke-width="0.9"/>
<line x1="1060.1" y1="359.2" x2="1060.1" y2="349.2" stroke="#000" stroke-width="0.9"/>
<line x1="1077.3" y1="359.2" x2="1077.3" y2="354.2" stroke="#000" stroke-width="0.9"/>
<g font-family='"DejaVu Sans", "Liberation Sans", sans-serif' font-size="17.5" fill="#000">
<text x="196.2" y="69" text-anchor="middle" fill="#000" font-size="17.9">torek</text>
<text x="195.7" y="89.8" text-anchor="middle" fill="#000" font-size="17.55">28.10</text>
<text x="334.4" y="69" text-anchor="middle" fill="#000" font-size="17.9">sreda</text>
<text x="333.9" y="89.8" text-anchor="middle" fill="#000" font-size="17.55">29.10</text>
<text x="472.6" y="69" text-anchor="middle" fill="#000" font-size="17.9">četrtek</text>
<text x="472.1" y="89.8" text-anchor="middle" fill="#000" font-size="17.55">30.10</text>
<text x="610.7" y="69" text-anchor="middle" fill="#000" font-size="17.9">petek</text>
<text x="610.2" y="89.8" text-anchor="middle" fill="#000" font-size="17.55">31.10</text>
<text x="748.9" y="69" text-anchor="middle" fill="#cc0000" font-size="17.9">sobota</text>
<text x="748.4" y="89.8" text-anchor="middle" fill="#cc0000" font-size="17.55">01.11</text>
<text x="887.1" y="69" text-anchor="middle" fill="#cc0000" font-size="17.9">nedelja</text>
<text x="886.6" y="89.8" text-anchor="middle" fill="#cc0000" font-size="17.55">02.11</text>
<text x="1025.2" y="69" text-anchor="middle" fill="#000" font-size="17.9">ponedeljek</text>
<text x="1024.7" y="89.8" text-anchor="middle" fill="#000" font-size="17.55">03.11</text>
<text x="161.3" y="377" text-anchor="middle">06</text>
<text x="195.8" y="377" text-anchor="middle">12</text>
<text x="230.4" y="377" text-anchor="middle">18</text>
<text x="264.9" y="377" text-anchor="middle">sre</text>
<text x="299.5" y="377" text-anchor="middle">06</text>
<text x="334.0" y="377" text-anchor="middle">12</text>
<text x="368.5" y="377" text-anchor="middle">18</text>
<text x="403.1" y="377" text-anchor="middle">čet</text>
<text x="437.6" y="377" text-anchor="middle">06</text>
<text x="472.2" y="377" text-anchor="middle">12</text>
<text x="506.7" y="377" text-anchor="middle">18</text>
<text x="541.2" y="377" text-anchor="middle">pet</text>
<text x="575.8" y="377" text-anchor="middle">06</text>
<text x="610.3" y="377" text-anchor="middle">12</text>
<text x="644.9" y="377" text-anchor="middle">18</text>
<text x="679.4" y="377" text-anchor="middle">sob</text>
<text x="714.0" y="377" text-anchor="middle">06</text>
<text x="748.5" y="377" text-anchor="middle">12</text>
<text x="783.0" y="377" text-anchor="middle">18</text>
<text x="817.6" y="377" text-anchor="middle">ned</text>
<text x="852.1" y="377" text-anchor="middle">06</text>
<text x="886.7" y="377" text-anchor="middle">12</text>
<text x="921.2" y="377" text-anchor="middle">18</text>
<text x="955.7" y="377" text-anchor="middle">pon</text>
<text x="990.3" y="377" text-anchor="middle">06</text>
<text x="1024.8" y="377" text-anchor="middle">12</text>
<text x="1059.4" y="377" text-anchor="middle">18</text>
<text x="123.3" y="178.8" text-anchor="end">8</text>
<text x="123.3" y="216.2" text-anchor="end">6</text>
<text x="123.3" y="253.6" text-anchor="end">4</text>
<text x="123.3" y="291.0" text-anchor="end">3</text>
<text x="123.3" y="328.4" text-anchor="end">2</text>
<text x="123.3" y="365.8" text-anchor="end">0</text>
<text x="46" y="178.8" fill="#f00000">24</text>
<text x="46" y="216.2" fill="#f00000">21</text>
<text x="46" y="253.6" fill="#f00000">17</text>
<text x="46" y="291.0" fill="#f00000">14</text>
<text x="46" y="328.4" fill="#f00000">10</text>
<text x="46" y="365.8" fill="#f00000">7</text>
<text x="1099.1" y="178.8">14</text>
<text x="1099.1" y="216.2">9.0</text>
<text x="1099.1" y="253.6">6.0</text>
<text x="1099.1" y="291.0">3.5</text>
<text x="1099.1" y="328.4">1.5</text>
<text x="1099.1" y="365.8">0</text>
<text x="126" y="324.7" text-anchor="middle">12</text>
<text x="213" y="282.2" text-anchor="middle">16</text>
<text x="253.6" y="314.2" text-anchor="middle">13</text>
<text x="329" y="263.9" text-anchor="middle">18</text>
<text x="374.5" y="287.5" text-anchor="middle">15</text>
<text x="460.7" y="258.6" text-anchor="middle">18</text>
<text x="512.8" y="271.9" text-anchor="middle">17</text>
<text x="604.3" y="247.7" text-anchor="middle">19</text>
<text x="679" y="270.8" text-anchor="middle">17</text>
<text x="748.5" y="254.7" text-anchor="middle">18</text>
<text x="812" y="279.2" text-anchor="middle">16</text>
<text x="881.3" y="252.7" text-anchor="middle">19</text>
<text x="985.7" y="275.4" text-anchor="middle">16</text>
<text x="1019.8" y="260.8" text-anchor="middle">18</text>
<text x="1094.2" y="306.5" text-anchor="middle">14</text>
</g>
<g font-family='"DejaVu Sans", "Liberation Sans", sans-serif' font-size="19.3">
<text transform="translate(35.5,351) rotate(-90)" fill="#f00000">Temperatura (°C)</text>
<text transform="translate(99.5,346.5) rotate(-90)" fill="#000">Padavine (mm/h)</text>
<text transform="translate(1146,348.3) rotate(-90)" fill="#000">Višina oblakov (km)</text>
</g>
<rect x="165.5" y="386.3" width="104.3" height="19" fill="#fff"/>
<rect x="310" y="386.3" width="118" height="19" fill="#fff"/>
<rect x="759.7" y="386.3" width="180.3" height="19.3" fill="#fff"/>
<rect x="127" y="390" width="32" height="11.2" fill="#0050fa"/>
<rect x="278.2" y="390" width="32" height="11.2" fill="#10d8c8"/>
<g font-family='"Liberation Sans", "DejaVu Sans", sans-serif' font-size="19.3" fill="#000">
<text x="168.6" y="401.6">Dež</text>
<text x="319.5" y="401.6">Možnost ploh</text>
<text x="760.5" y="401.6">Gostota oblakov (%)</text>
</g>
<text x="499.5" y="401.3" font-family='"Liberation Sans", "DejaVu Sans", sans-serif' font-size="15.9" fill="#0000ff">© vreme.us &amp; vreme.pro</text>
<rect x="949.20" y="385.3" width="29.3" height="13.3" fill="#d0d0d0"/>
<rect x="978.36" y="385.3" width="29.3" height="13.3" fill="#b0b0b0"/>
<rect x="1007.52" y="385.3" width="29.3" height="13.3" fill="#909090"/>
<rect x="1036.68" y="385.3" width="29.3" height="13.3" fill="#727272"/>
<rect x="1065.84" y="385.3" width="29.3" height="13.3" fill="#555555"/>
<rect x="949.2" y="385.3" width="145.8" height="13.3" fill="none" stroke="#222" stroke-width="1"/>
<g font-family='"DejaVu Sans", "Liberation Sans", sans-serif' font-size="15" fill="#000" text-anchor="middle">
<text x="949.2" y="414.8">10</text>
<text x="978.4" y="414.8">25</text>
<text x="1007.5" y="414.8">50</text>
<text x="1036.7" y="414.8">75</text>
<text x="1065.8" y="414.8">90</text>
<text x="1095.0" y="414.8">100</text>
</g>
<g font-family='"Liberation Sans", "DejaVu Sans", sans-serif' fill="#0000ff">
<text x="9.5" y="21.6" font-size="16">(kraj lahko izberete v meniju)</text>
<text x="398.6" y="36.4" font-size="23.5">Savudrija 7 dni</text>
<text x="860" y="21.8" font-size="16">Zadnja posodobitev: 28.10.2025 - 16:04</text>
</g>
</svg></body></html>
